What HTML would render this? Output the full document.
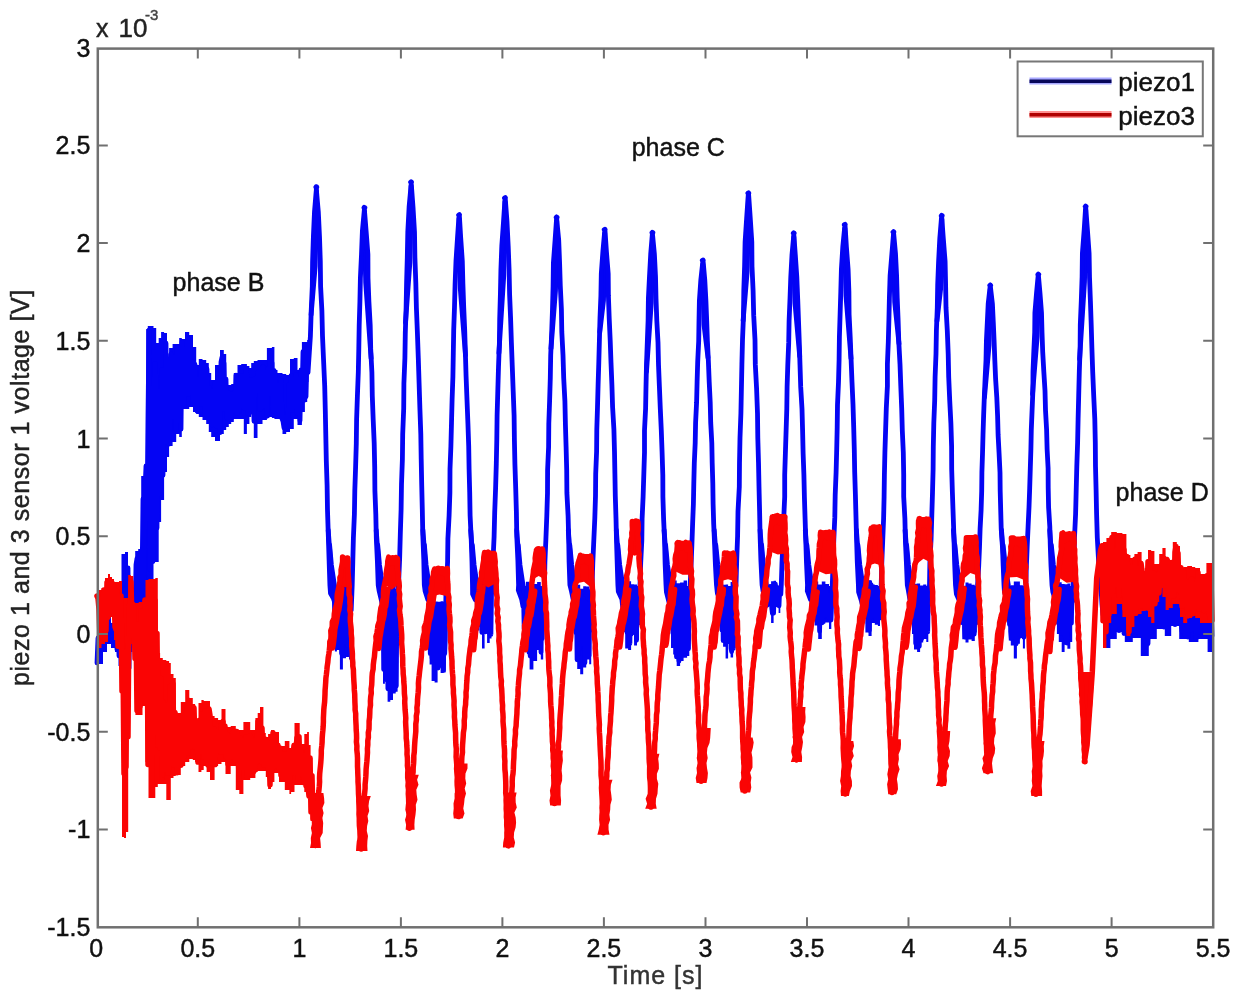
<!DOCTYPE html><html><head><meta charset="utf-8"><style>html,body{margin:0;padding:0;background:#fff;}svg{display:block}text{font-family:"Liberation Sans",Arial,sans-serif;stroke-width:0.45px;}</style></head><body>
<svg width="1236" height="1000" viewBox="0 0 1236 1000">
<rect width="1236" height="1000" fill="#fff"/>
<path d="M97.0 628.0 99.0 628.0 99.0 633.0 103.0 633.0 103.0 626.0 107.0 626.0 107.0 614.0 111.0 614.0 111.0 623.0 115.0 623.0 115.0 630.0 118.5 630.0 118.5 600.0 121.5 600.0 121.5 554.0 125.0 554.0 125.0 552.0 128.0 552.0 128.0 573.0 130.0 573.0 130.0 578.0 132.5 578.0 132.5 598.0 135.2 598.0 135.2 551.0 138.2 551.0 138.2 549.0 141.2 549.0 141.2 476.0 144.0 476.0 144.0 468.0 146.2 468.0 146.2 329.0 147.8 329.0 147.8 326.0 150.2 326.0 150.2 326.0 153.5 326.0 153.5 328.0 156.2 328.0 156.2 343.0 158.7 343.0 158.7 338.0 161.1 338.0 161.1 332.0 164.1 332.0 164.1 333.0 167.0 333.0 167.0 378.0 169.1 378.0 169.1 348.0 172.6 348.0 172.6 344.0 176.2 344.0 176.2 344.0 179.2 344.0 179.2 338.0 181.8 338.0 181.8 339.0 185.0 339.0 185.0 332.0 189.2 332.0 189.2 335.0 193.0 335.0 193.0 347.0 196.2 347.0 196.2 365.0 198.8 365.0 198.8 359.0 202.5 359.0 202.5 360.0 206.2 360.0 206.2 363.0 208.8 363.0 208.8 373.0 211.2 373.0 211.2 380.0 215.0 380.0 215.0 365.0 220.0 365.0 220.0 350.0 223.8 350.0 223.8 354.0 226.2 354.0 226.2 385.0 228.8 385.0 228.8 385.0 231.2 385.0 231.2 384.0 233.8 384.0 233.8 373.0 237.5 373.0 237.5 365.0 241.2 365.0 241.2 364.0 243.8 364.0 243.8 364.0 246.9 364.0 246.9 366.0 249.4 366.0 249.4 368.0 251.2 368.0 251.2 363.0 253.8 363.0 253.8 361.0 257.5 361.0 257.5 360.0 262.5 360.0 262.5 360.0 266.9 360.0 266.9 348.0 269.4 348.0 269.4 348.0 271.9 348.0 271.9 347.0 274.4 347.0 274.4 370.0 277.5 370.0 277.5 373.0 282.5 373.0 282.5 374.0 286.2 374.0 286.2 375.0 290.0 375.0 290.0 359.0 293.8 359.0 293.8 358.0 297.5 358.0 297.5 370.0 301.9 370.0 301.9 342.0 304.9 342.0 304.9 342.0 307.2 342.0 307.2 340.0 308.5 340.0 308.5 382.0 307.2 382.0 307.2 402.0 304.9 402.0 304.9 412.0 301.9 412.0 301.9 425.0 297.5 425.0 297.5 419.0 293.8 419.0 293.8 429.0 290.0 429.0 290.0 432.0 286.2 432.0 286.2 434.0 282.5 434.0 282.5 419.0 277.5 419.0 277.5 419.0 274.4 419.0 274.4 418.0 271.9 418.0 271.9 417.0 269.4 417.0 269.4 418.0 266.9 418.0 266.9 420.0 262.5 420.0 262.5 424.0 257.5 424.0 257.5 438.0 253.8 438.0 253.8 409.0 251.2 409.0 251.2 417.0 249.4 417.0 249.4 424.0 246.9 424.0 246.9 434.0 243.8 434.0 243.8 419.0 241.2 419.0 241.2 419.0 237.5 419.0 237.5 419.0 233.8 419.0 233.8 422.0 231.2 422.0 231.2 424.0 228.8 424.0 228.8 427.0 226.2 427.0 226.2 430.0 223.8 430.0 223.8 434.0 220.0 434.0 220.0 441.0 215.0 441.0 215.0 437.0 211.2 437.0 211.2 432.0 208.8 432.0 208.8 424.0 206.2 424.0 206.2 420.0 202.5 420.0 202.5 417.0 198.8 417.0 198.8 414.0 196.2 414.0 196.2 412.0 193.0 412.0 193.0 407.0 189.2 407.0 189.2 409.0 185.0 409.0 185.0 409.0 181.8 409.0 181.8 437.0 179.2 437.0 179.2 434.0 176.2 434.0 176.2 442.0 172.6 442.0 172.6 446.0 169.1 446.0 169.1 457.0 167.0 457.0 167.0 472.0 164.1 472.0 164.1 500.0 161.1 500.0 161.1 522.0 158.7 522.0 158.7 562.0 156.2 562.0 156.2 562.0 153.5 562.0 153.5 592.0 150.2 592.0 150.2 600.0 147.8 600.0 147.8 602.0 146.2 602.0 146.2 612.0 144.0 612.0 144.0 622.0 141.2 622.0 141.2 622.0 138.2 622.0 138.2 622.0 135.2 622.0 135.2 622.0 132.5 622.0 132.5 652.0 130.0 652.0 130.0 704.0 128.0 704.0 128.0 682.0 125.0 682.0 125.0 662.0 121.5 662.0 121.5 666.0 118.5 666.0 118.5 652.0 115.0 652.0 115.0 648.0 111.0 648.0 111.0 644.0 107.0 644.0 107.0 652.0 103.0 652.0 103.0 664.0 99.0 664.0 99.0 666.0 97.0 666.0Z" fill="#0404f4"/>
<path d="M334.4 596.0 334.9 596.0 334.9 589.0 336.9 589.0 336.9 587.6 339.9 587.6 339.9 584.7 342.9 584.7 342.9 583.1 346.0 583.1 346.0 586.3 349.0 586.3 349.0 589.0 351.0 589.0 351.0 588.0 351.5 588.0 351.5 606.0 351.0 606.0 351.0 659.5 349.0 659.5 349.0 657.0 346.0 657.0 346.0 658.2 342.9 658.2 342.9 669.5 339.9 669.5 339.9 650.1 336.9 650.1 336.9 651.5 334.9 651.5 334.9 612.0 334.4 612.0Z" fill="#0404f4"/>
<path d="M382.5 596.0 383.0 596.0 383.0 589.0 384.9 589.0 384.9 587.5 387.6 587.5 387.6 587.5 390.3 587.5 390.3 586.3 393.0 586.3 393.0 584.1 395.7 584.1 395.7 589.0 397.6 589.0 397.6 588.0 398.1 588.0 398.1 606.0 397.6 606.0 397.6 691.8 395.7 691.8 395.7 693.5 393.0 693.5 393.0 699.9 390.3 699.9 390.3 701.8 387.6 701.8 387.6 680.8 384.9 680.8 384.9 683.8 383.0 683.8 383.0 612.0 382.5 612.0Z" fill="#0404f4"/>
<path d="M429.1 596.0 429.6 596.0 429.6 602.0 431.6 602.0 431.6 597.4 434.6 597.4 434.6 601.5 437.6 601.5 437.6 601.8 440.6 601.8 440.6 601.2 443.6 601.2 443.6 602.0 445.6 602.0 445.6 588.0 446.1 588.0 446.1 606.0 445.6 606.0 445.6 672.4 443.6 672.4 443.6 673.1 440.6 673.1 440.6 667.8 437.6 667.8 437.6 682.4 434.6 682.4 434.6 680.9 431.6 680.9 431.6 664.4 429.6 664.4 429.6 612.0 429.1 612.0Z" fill="#0404f4"/>
<path d="M477.1 596.0 477.6 596.0 477.6 586.0 479.4 586.0 479.4 584.6 482.0 584.6 482.0 580.9 484.6 580.9 484.6 582.7 487.1 582.7 487.1 580.2 489.7 580.2 489.7 586.0 491.5 586.0 491.5 588.0 492.0 588.0 492.0 606.0 491.5 606.0 491.5 638.4 489.7 638.4 489.7 643.1 487.1 643.1 487.1 632.0 484.6 632.0 484.6 648.4 482.0 648.4 482.0 626.7 479.4 626.7 479.4 630.4 477.6 630.4 477.6 612.0 477.1 612.0Z" fill="#0404f4"/>
<path d="M523.0 596.0 523.5 596.0 523.5 586.0 525.9 586.0 525.9 581.8 529.6 581.8 529.6 585.3 533.4 585.3 533.4 583.9 537.1 583.9 537.1 582.0 540.8 582.0 540.8 586.0 543.2 586.0 543.2 588.0 543.7 588.0 543.7 606.0 543.2 606.0 543.2 659.5 540.8 659.5 540.8 649.8 537.1 649.8 537.1 661.0 533.4 661.0 533.4 669.5 529.6 669.5 529.6 651.6 525.9 651.6 525.9 651.5 523.5 651.5 523.5 612.0 523.0 612.0Z" fill="#0404f4"/>
<path d="M574.7 596.0 575.2 596.0 575.2 589.2 577.2 589.2 577.2 584.8 580.2 584.8 580.2 588.7 583.2 588.7 583.2 586.2 586.2 586.2 586.2 586.4 589.2 586.4 589.2 589.2 591.2 589.2 591.2 588.0 591.7 588.0 591.7 606.0 591.2 606.0 591.2 664.3 589.2 664.3 589.2 659.6 586.2 659.6 586.2 667.5 583.2 667.5 583.2 674.3 580.2 674.3 580.2 668.9 577.2 668.9 577.2 656.3 575.2 656.3 575.2 612.0 574.7 612.0Z" fill="#0404f4"/>
<path d="M622.7 596.0 623.2 596.0 623.2 586.0 625.2 586.0 625.2 580.0 628.1 580.0 628.1 581.2 631.1 581.2 631.1 584.3 634.1 584.3 634.1 584.6 637.0 584.6 637.0 586.0 639.0 586.0 639.0 588.0 639.5 588.0 639.5 606.0 639.0 606.0 639.0 640.0 637.0 640.0 637.0 645.6 634.1 645.6 634.1 630.9 631.1 630.9 631.1 650.0 628.1 650.0 628.1 648.5 625.2 648.5 625.2 632.0 623.2 632.0 623.2 612.0 622.7 612.0Z" fill="#0404f4"/>
<path d="M670.5 596.0 671.0 596.0 671.0 586.0 673.2 586.0 673.2 580.4 676.7 580.4 676.7 583.3 680.1 583.3 680.1 582.4 683.6 582.4 683.6 580.6 687.1 580.6 687.1 586.0 689.3 586.0 689.3 588.0 689.8 588.0 689.8 606.0 689.3 606.0 689.3 656.0 687.1 656.0 687.1 657.8 683.6 657.8 683.6 661.1 680.1 661.1 680.1 666.0 676.7 666.0 676.7 654.4 673.2 654.4 673.2 648.0 671.0 648.0 671.0 612.0 670.5 612.0Z" fill="#0404f4"/>
<path d="M720.8 596.0 721.3 596.0 721.3 586.4 723.1 586.4 723.1 584.8 725.6 584.8 725.6 584.4 728.1 584.4 728.1 585.9 730.6 585.9 730.6 582.0 733.1 582.0 733.1 586.4 734.9 586.4 734.9 588.0 735.4 588.0 735.4 606.0 734.9 606.0 734.9 648.6 733.1 648.6 733.1 657.4 730.6 657.4 730.6 641.5 728.1 641.5 728.1 658.6 725.6 658.6 725.6 646.8 723.1 646.8 723.1 640.6 721.3 640.6 721.3 612.0 720.8 612.0Z" fill="#0404f4"/>
<path d="M766.4 596.0 766.9 596.0 766.9 586.0 768.6 586.0 768.6 584.3 771.1 584.3 771.1 581.2 773.6 581.2 773.6 580.8 776.1 580.8 776.1 585.3 778.6 585.3 778.6 586.0 780.3 586.0 780.3 588.0 780.8 588.0 780.8 606.0 780.3 606.0 780.3 613.0 778.6 613.0 778.6 607.0 776.1 607.0 776.1 608.1 773.6 608.1 773.6 623.0 771.1 623.0 771.1 602.2 768.6 602.2 768.6 605.0 766.9 605.0 766.9 612.0 766.4 612.0Z" fill="#0404f4"/>
<path d="M811.8 596.0 812.3 596.0 812.3 586.0 814.6 586.0 814.6 581.5 818.2 581.5 818.2 584.6 821.8 584.6 821.8 581.6 825.4 581.6 825.4 583.9 829.0 583.9 829.0 586.0 831.3 586.0 831.3 588.0 831.8 588.0 831.8 606.0 831.3 606.0 831.3 629.0 829.0 629.0 829.0 622.5 825.4 622.5 825.4 623.4 821.8 623.4 821.8 639.0 818.2 639.0 818.2 625.6 814.6 625.6 814.6 621.0 812.3 621.0 812.3 612.0 811.8 612.0Z" fill="#0404f4"/>
<path d="M862.8 596.0 863.3 596.0 863.3 586.0 865.4 586.0 865.4 582.4 868.5 582.4 868.5 580.2 871.6 580.2 871.6 584.5 874.8 584.5 874.8 584.9 877.9 584.9 877.9 586.0 880.0 586.0 880.0 588.0 880.5 588.0 880.5 606.0 880.0 606.0 880.0 626.0 877.9 626.0 877.9 624.8 874.8 624.8 874.8 623.1 871.6 623.1 871.6 636.0 868.5 636.0 868.5 632.5 865.4 632.5 865.4 618.0 863.3 618.0 863.3 612.0 862.8 612.0Z" fill="#0404f4"/>
<path d="M911.5 596.0 912.0 596.0 912.0 586.0 914.0 586.0 914.0 583.8 917.1 583.8 917.1 583.4 920.1 583.4 920.1 585.6 923.2 585.6 923.2 584.6 926.3 584.6 926.3 586.0 928.3 586.0 928.3 588.0 928.8 588.0 928.8 606.0 928.3 606.0 928.3 642.0 926.3 642.0 926.3 639.0 923.2 639.0 923.2 642.4 920.1 642.4 920.1 652.0 917.1 652.0 917.1 649.6 914.0 649.6 914.0 634.0 912.0 634.0 912.0 612.0 911.5 612.0Z" fill="#0404f4"/>
<path d="M959.8 596.0 960.3 596.0 960.3 586.0 962.3 586.0 962.3 585.8 965.5 585.8 965.5 582.4 968.5 582.4 968.5 583.4 971.6 583.4 971.6 584.7 974.8 584.7 974.8 586.0 976.8 586.0 976.8 588.0 977.3 588.0 977.3 606.0 976.8 606.0 976.8 632.4 974.8 632.4 974.8 641.0 971.6 641.0 971.6 639.5 968.5 639.5 968.5 642.4 965.5 642.4 965.5 639.2 962.3 639.2 962.3 624.4 960.3 624.4 960.3 612.0 959.8 612.0Z" fill="#0404f4"/>
<path d="M1008.3 596.0 1008.8 596.0 1008.8 586.0 1010.8 586.0 1010.8 585.2 1013.8 585.2 1013.8 581.6 1016.9 581.6 1016.9 581.5 1019.9 581.5 1019.9 585.2 1022.9 585.2 1022.9 586.0 1024.9 586.0 1024.9 588.0 1025.4 588.0 1025.4 606.0 1024.9 606.0 1024.9 648.6 1022.9 648.6 1022.9 638.0 1019.9 638.0 1019.9 643.8 1016.9 643.8 1016.9 658.6 1013.8 658.6 1013.8 645.5 1010.8 645.5 1010.8 640.6 1008.8 640.6 1008.8 612.0 1008.3 612.0Z" fill="#0404f4"/>
<path d="M1056.4 596.0 1056.9 596.0 1056.9 586.0 1058.8 586.0 1058.8 582.2 1061.7 582.2 1061.7 584.1 1064.6 584.1 1064.6 584.3 1067.4 584.3 1067.4 583.4 1070.3 583.4 1070.3 586.0 1072.2 586.0 1072.2 588.0 1072.7 588.0 1072.7 606.0 1072.2 606.0 1072.2 642.0 1070.3 642.0 1070.3 648.8 1067.4 648.8 1067.4 644.8 1064.6 644.8 1064.6 652.0 1061.7 652.0 1061.7 642.0 1058.8 642.0 1058.8 634.0 1056.9 634.0 1056.9 612.0 1056.4 612.0Z" fill="#0404f4"/>
<path d="M1101.0 583.0 1104.1 583.0 1104.1 586.0 1110.4 586.0 1110.4 588.0 1116.8 588.0 1116.8 588.0 1124.8 588.0 1124.8 590.0 1132.8 590.0 1132.8 588.0 1140.8 588.0 1140.8 593.0 1148.8 593.0 1148.8 590.0 1156.8 590.0 1156.8 577.0 1164.8 577.0 1164.8 588.0 1171.2 588.0 1171.2 588.0 1179.2 588.0 1179.2 590.0 1188.8 590.0 1188.8 590.0 1198.4 590.0 1198.4 590.0 1207.6 590.0 1207.6 593.0 1212.0 593.0 1212.0 652.0 1207.6 652.0 1207.6 639.0 1198.4 639.0 1198.4 642.0 1188.8 642.0 1188.8 639.0 1179.2 639.0 1179.2 626.0 1171.2 626.0 1171.2 636.0 1164.8 636.0 1164.8 629.0 1156.8 629.0 1156.8 639.0 1148.8 639.0 1148.8 656.0 1140.8 656.0 1140.8 638.0 1132.8 638.0 1132.8 642.0 1124.8 642.0 1124.8 632.0 1116.8 632.0 1116.8 639.0 1110.4 639.0 1110.4 648.0 1104.1 648.0 1104.1 602.0 1101.0 602.0Z" fill="#0404f4"/>
<path d="M316.4 190.7 315.9 234.5 315.2 266.4 311.1 314.9" fill="none" stroke="#0404f4" stroke-width="4.8" stroke-linejoin="round" stroke-linecap="round"/>
<path d="M328.2 530.0 329.7 550.0 330.9 572.0 333.4 590.0 335.4 600.0" fill="none" stroke="#0404f4" stroke-width="4.8" stroke-linejoin="round" stroke-linecap="round"/>
<path d="M329.6 545.0 331.4 565.0 334.4 585.0 336.4 598.0" fill="none" stroke="#0404f4" stroke-width="4.8" stroke-linejoin="round" stroke-linecap="round"/>
<path d="M364.5 211.3 365.0 252.6 365.7 282.8 371.1 358.4" fill="none" stroke="#0404f4" stroke-width="4.8" stroke-linejoin="round" stroke-linecap="round"/>
<path d="M376.2 530.0 377.7 550.0 379.0 572.0 381.5 590.0 383.5 600.0" fill="none" stroke="#0404f4" stroke-width="4.8" stroke-linejoin="round" stroke-linecap="round"/>
<path d="M377.7 545.0 379.5 565.0 382.5 585.0 384.5 598.0" fill="none" stroke="#0404f4" stroke-width="4.8" stroke-linejoin="round" stroke-linecap="round"/>
<path d="M411.1 185.8 410.6 230.2 409.9 262.4 405.5 322.8" fill="none" stroke="#0404f4" stroke-width="4.8" stroke-linejoin="round" stroke-linecap="round"/>
<path d="M422.9 530.0 424.4 550.0 425.6 572.0 428.1 590.0 430.1 600.0" fill="none" stroke="#0404f4" stroke-width="4.8" stroke-linejoin="round" stroke-linecap="round"/>
<path d="M424.4 545.0 426.1 565.0 429.1 585.0 431.1 598.0" fill="none" stroke="#0404f4" stroke-width="4.8" stroke-linejoin="round" stroke-linecap="round"/>
<path d="M459.1 218.6 459.6 259.0 460.3 288.7 465.5 355.4" fill="none" stroke="#0404f4" stroke-width="4.8" stroke-linejoin="round" stroke-linecap="round"/>
<path d="M470.7 530.0 472.2 550.0 473.6 572.0 476.1 590.0 478.1 600.0" fill="none" stroke="#0404f4" stroke-width="4.8" stroke-linejoin="round" stroke-linecap="round"/>
<path d="M472.3 545.0 474.1 565.0 477.1 585.0 479.1 598.0" fill="none" stroke="#0404f4" stroke-width="4.8" stroke-linejoin="round" stroke-linecap="round"/>
<path d="M505.0 201.6 504.5 244.1 503.8 275.1 498.9 353.2" fill="none" stroke="#0404f4" stroke-width="4.8" stroke-linejoin="round" stroke-linecap="round"/>
<path d="M516.7 530.0 518.2 550.0 519.5 572.0 522.0 590.0 524.0 600.0" fill="none" stroke="#0404f4" stroke-width="4.8" stroke-linejoin="round" stroke-linecap="round"/>
<path d="M518.2 545.0 520.0 565.0 523.0 585.0 525.0 598.0" fill="none" stroke="#0404f4" stroke-width="4.8" stroke-linejoin="round" stroke-linecap="round"/>
<path d="M556.7 221.0 556.2 261.2 555.5 290.6 551.0 348.5" fill="none" stroke="#0404f4" stroke-width="4.8" stroke-linejoin="round" stroke-linecap="round"/>
<path d="M568.3 530.0 569.8 550.0 571.2 572.0 573.7 590.0 575.7 600.0" fill="none" stroke="#0404f4" stroke-width="4.8" stroke-linejoin="round" stroke-linecap="round"/>
<path d="M569.8 545.0 571.7 565.0 574.7 585.0 576.7 598.0" fill="none" stroke="#0404f4" stroke-width="4.8" stroke-linejoin="round" stroke-linecap="round"/>
<path d="M604.7 233.2 604.2 271.9 603.5 300.4 599.8 332.1" fill="none" stroke="#0404f4" stroke-width="4.8" stroke-linejoin="round" stroke-linecap="round"/>
<path d="M616.3 530.0 617.8 550.0 619.2 572.0 621.7 590.0 623.7 600.0" fill="none" stroke="#0404f4" stroke-width="4.8" stroke-linejoin="round" stroke-linecap="round"/>
<path d="M617.8 545.0 619.7 565.0 622.7 585.0 624.7 598.0" fill="none" stroke="#0404f4" stroke-width="4.8" stroke-linejoin="round" stroke-linecap="round"/>
<path d="M652.5 236.3 652.0 274.6 651.3 302.8 646.5 371.7" fill="none" stroke="#0404f4" stroke-width="4.8" stroke-linejoin="round" stroke-linecap="round"/>
<path d="M664.1 530.0 665.6 550.0 667.0 572.0 669.5 590.0 671.5 600.0" fill="none" stroke="#0404f4" stroke-width="4.8" stroke-linejoin="round" stroke-linecap="round"/>
<path d="M665.6 545.0 667.5 565.0 670.5 585.0 672.5 598.0" fill="none" stroke="#0404f4" stroke-width="4.8" stroke-linejoin="round" stroke-linecap="round"/>
<path d="M702.8 264.0 703.3 299.0 704.0 325.0 708.0 357.9" fill="none" stroke="#0404f4" stroke-width="4.8" stroke-linejoin="round" stroke-linecap="round"/>
<path d="M714.2 530.0 715.7 550.0 717.3 572.0 719.8 590.0 721.8 600.0" fill="none" stroke="#0404f4" stroke-width="4.8" stroke-linejoin="round" stroke-linecap="round"/>
<path d="M715.8 545.0 717.8 565.0 720.8 585.0 722.8 598.0" fill="none" stroke="#0404f4" stroke-width="4.8" stroke-linejoin="round" stroke-linecap="round"/>
<path d="M748.4 196.8 747.9 239.9 747.2 271.2 743.1 320.7" fill="none" stroke="#0404f4" stroke-width="4.8" stroke-linejoin="round" stroke-linecap="round"/>
<path d="M760.1 530.0 761.6 550.0 762.9 572.0 765.4 590.0 767.4 600.0" fill="none" stroke="#0404f4" stroke-width="4.8" stroke-linejoin="round" stroke-linecap="round"/>
<path d="M761.6 545.0 763.4 565.0 766.4 585.0 768.4 598.0" fill="none" stroke="#0404f4" stroke-width="4.8" stroke-linejoin="round" stroke-linecap="round"/>
<path d="M793.8 236.8 794.3 275.1 795.0 303.2 799.7 356.3" fill="none" stroke="#0404f4" stroke-width="4.8" stroke-linejoin="round" stroke-linecap="round"/>
<path d="M805.3 530.0 806.8 550.0 808.3 572.0 810.8 590.0 812.8 600.0" fill="none" stroke="#0404f4" stroke-width="4.8" stroke-linejoin="round" stroke-linecap="round"/>
<path d="M806.9 545.0 808.8 565.0 811.8 585.0 813.8 598.0" fill="none" stroke="#0404f4" stroke-width="4.8" stroke-linejoin="round" stroke-linecap="round"/>
<path d="M844.8 228.3 845.3 267.6 846.0 296.4 851.0 358.6" fill="none" stroke="#0404f4" stroke-width="4.8" stroke-linejoin="round" stroke-linecap="round"/>
<path d="M856.4 530.0 857.9 550.0 859.3 572.0 861.8 590.0 863.8 600.0" fill="none" stroke="#0404f4" stroke-width="4.8" stroke-linejoin="round" stroke-linecap="round"/>
<path d="M857.9 545.0 859.8 565.0 862.8 585.0 864.8 598.0" fill="none" stroke="#0404f4" stroke-width="4.8" stroke-linejoin="round" stroke-linecap="round"/>
<path d="M893.5 235.6 894.0 274.0 894.7 302.3 899.0 343.7" fill="none" stroke="#0404f4" stroke-width="4.8" stroke-linejoin="round" stroke-linecap="round"/>
<path d="M905.1 530.0 906.6 550.0 908.0 572.0 910.5 590.0 912.5 600.0" fill="none" stroke="#0404f4" stroke-width="4.8" stroke-linejoin="round" stroke-linecap="round"/>
<path d="M906.6 545.0 908.5 565.0 911.5 585.0 913.5 598.0" fill="none" stroke="#0404f4" stroke-width="4.8" stroke-linejoin="round" stroke-linecap="round"/>
<path d="M941.8 219.3 941.3 259.7 940.6 289.2 937.0 320.9" fill="none" stroke="#0404f4" stroke-width="4.8" stroke-linejoin="round" stroke-linecap="round"/>
<path d="M953.4 530.0 954.9 550.0 956.3 572.0 958.8 590.0 960.8 600.0" fill="none" stroke="#0404f4" stroke-width="4.8" stroke-linejoin="round" stroke-linecap="round"/>
<path d="M954.9 545.0 956.8 565.0 959.8 585.0 961.8 598.0" fill="none" stroke="#0404f4" stroke-width="4.8" stroke-linejoin="round" stroke-linecap="round"/>
<path d="M990.3 289.0 989.8 321.0 989.1 345.0 984.5 397.4" fill="none" stroke="#0404f4" stroke-width="4.8" stroke-linejoin="round" stroke-linecap="round"/>
<path d="M1001.5 530.0 1003.0 550.0 1004.8 572.0 1007.3 590.0 1009.3 600.0" fill="none" stroke="#0404f4" stroke-width="4.8" stroke-linejoin="round" stroke-linecap="round"/>
<path d="M1003.1 545.0 1005.3 565.0 1008.3 585.0 1010.3 598.0" fill="none" stroke="#0404f4" stroke-width="4.8" stroke-linejoin="round" stroke-linecap="round"/>
<path d="M1038.4 278.1 1037.9 311.4 1037.2 336.3 1032.5 394.2" fill="none" stroke="#0404f4" stroke-width="4.8" stroke-linejoin="round" stroke-linecap="round"/>
<path d="M1049.7 530.0 1051.2 550.0 1052.9 572.0 1055.4 590.0 1057.4 600.0" fill="none" stroke="#0404f4" stroke-width="4.8" stroke-linejoin="round" stroke-linecap="round"/>
<path d="M1051.3 545.0 1053.4 565.0 1056.4 585.0 1058.4 598.0" fill="none" stroke="#0404f4" stroke-width="4.8" stroke-linejoin="round" stroke-linecap="round"/>
<path d="M1085.7 210.1 1085.2 251.6 1084.5 281.9 1079.6 359.1" fill="none" stroke="#0404f4" stroke-width="4.8" stroke-linejoin="round" stroke-linecap="round"/>
<path d="M97.0 662.9 98.0 638.0 99.0 658.9 100.0 637.0 101.0 641.7 102.0 642.0 103.0 648.7 104.0 630.4 105.0 642.5 106.0 631.9 107.0 641.7 108.0 621.6 109.0 623.7 110.0 636.2 111.0 626.9 112.0 625.9 113.0 625.2 114.0 630.2 115.0 641.6 116.0 632.2 117.0 649.6 118.0 625.0 119.0 655.8 120.0 611.8 121.0 639.5 122.0 584.7 123.0 658.7 124.0 589.5 125.0 664.0 126.0 596.3 127.0 669.8 128.0 567.9 129.0 668.3 130.0 593.3 131.0 639.4 132.0 589.7 133.0 596.7 134.0 619.4 135.0 618.2 136.0 564.7 137.0 558.5 138.0 615.6 139.0 555.9 140.0 601.3 141.0 606.6 142.0 584.4 143.0 498.9 144.0 583.7 145.0 489.3 146.0 465.9 147.0 519.0 148.0 415.0 149.0 330.2 150.0 569.3 151.0 506.7 152.0 410.6 153.0 561.6 154.0 387.1 155.0 363.7 156.0 381.2 157.0 528.1 158.0 390.3 159.0 391.3 160.0 493.5 161.0 454.5 162.0 369.5 163.0 475.3 164.0 383.0 165.0 442.4 166.0 343.2 167.0 441.9 168.0 397.6 169.0 444.1 170.0 425.0 171.0 354.0 172.0 376.5 173.0 356.9 174.0 416.9 175.0 366.7 176.0 431.5 177.0 348.5 178.0 346.6 179.0 411.5 180.0 346.3 181.0 429.2 182.0 342.1 183.0 398.2 184.0 405.8 185.0 349.2 186.0 393.8 187.0 341.8 188.0 394.4 189.0 345.2 190.0 338.4 191.0 384.2 192.0 361.2 193.0 404.6 194.0 396.8 195.0 364.5 196.0 405.2 197.0 411.1 198.0 378.8 199.0 378.6 200.0 404.3 201.0 370.6 202.0 362.8 203.0 403.8 204.0 364.9 205.0 414.7 206.0 409.5 207.0 369.0 208.0 418.1 209.0 387.6 210.0 418.0 211.0 416.9 212.0 425.0 213.0 390.9 214.0 416.2 215.0 383.4 216.0 425.9 217.0 381.8 218.0 389.1 219.0 414.1 220.0 432.7 221.0 361.9 222.0 357.3 223.0 409.0 224.0 363.0 225.0 405.4 226.0 379.0 227.0 418.1 228.0 392.6 229.0 413.0 230.0 393.6 231.0 419.3 232.0 396.0 233.0 410.8 234.0 393.0 235.0 405.7 236.0 375.1 237.0 413.5 238.0 381.5 239.0 411.5 240.0 401.4 241.0 375.6 242.0 400.4 243.0 376.5 244.0 408.0 245.0 385.5 246.0 368.8 247.0 376.8 248.0 413.4 249.0 379.5 250.0 412.4 251.0 379.4 252.0 396.1 253.0 379.7 254.0 421.3 255.0 378.4 256.0 382.7 257.0 380.4 258.0 371.8 259.0 377.5 260.0 409.4 261.0 369.2 262.0 407.1 263.0 366.8 264.0 405.5 265.0 372.6 266.0 372.1 267.0 416.3 268.0 369.0 269.0 393.9 270.0 352.4 271.0 362.5 272.0 362.7 273.0 411.2 274.0 370.3 275.0 374.7 276.0 409.0 277.0 387.8 278.0 410.8 279.0 384.3 280.0 412.7 281.0 379.2 282.0 418.7 283.0 421.4 284.0 427.8 285.0 420.7 286.0 416.6 287.0 425.0 288.0 426.0 289.0 384.7 290.0 408.7 291.0 375.6 292.0 410.5 293.0 378.4 294.0 380.7 295.0 399.2 296.0 374.7 297.0 413.2 298.0 379.1 299.0 408.0 300.0 420.7 301.0 369.9 302.0 397.5 303.0 351.7 304.0 400.4 305.0 348.6 306.0 396.7 307.0 357.1 308.0 372.5 310.4 336.1 311.2 311.2 312.3 286.3 312.6 261.4 313.4 236.5 314.5 211.6 316.6 186.7 315.9 187.2 316.9 187.2 316.1 186.7 318.3 211.6 319.5 236.5 320.3 261.4 320.6 286.3 321.9 311.2 322.5 336.1 323.6 361.0 324.7 385.9 325.3 410.7 325.8 435.6 326.3 460.5 327.1 485.4 327.5 510.3 328.3 535.2 329.1 560.1 329.9 585.0 330.5 593.3 333.5 598.7 334.4 601.5 335.0 630.6 335.6 606.1 336.2 641.5 336.8 603.7 337.4 643.6 338.0 598.0 338.6 603.6 339.2 646.7 339.8 642.7 340.4 609.6 341.0 611.3 341.6 653.4 342.2 648.7 342.8 605.9 343.4 638.4 344.0 592.9 344.6 638.9 345.2 605.0 345.8 642.4 346.4 632.3 347.0 593.1 347.6 645.5 348.2 595.6 348.8 639.9 349.4 644.3 350.0 654.9 350.6 611.5 351.2 610.1 352.2 585.0 352.8 561.4 353.4 537.8 354.4 514.2 354.8 490.6 355.6 467.0 356.3 443.4 356.6 419.8 357.4 396.1 358.3 372.5 358.8 348.9 359.2 325.3 359.9 301.7 360.4 278.1 361.5 254.5 362.4 230.9 364.6 207.3 364.0 207.8 365.0 207.8 364.2 207.3 366.1 230.9 367.9 254.5 368.0 278.1 368.9 301.7 370.2 325.3 370.7 348.9 371.9 372.5 372.3 396.1 373.2 419.8 374.2 443.4 374.7 467.0 374.9 490.6 375.8 514.2 376.3 537.8 377.4 561.4 378.2 585.0 379.1 590.6 381.7 601.7 382.5 606.9 383.1 603.2 383.7 669.4 384.3 596.4 384.9 663.2 385.5 591.1 386.1 671.6 386.7 679.9 387.3 594.7 387.9 688.8 388.5 612.6 389.1 670.5 389.7 599.4 390.3 677.2 390.9 601.6 391.5 686.8 392.1 599.5 392.7 676.9 393.3 622.0 393.9 690.1 394.5 610.7 395.1 672.0 395.7 592.0 396.3 686.0 396.9 599.1 397.5 634.1 398.1 593.7 398.5 585.0 399.6 559.8 400.3 534.6 401.1 509.4 401.5 484.2 402.4 459.0 402.7 433.8 403.7 408.6 403.9 383.4 404.9 358.2 405.3 333.0 406.1 307.8 406.6 282.6 407.3 257.4 407.8 232.2 409.1 207.0 411.4 181.8 410.6 182.3 411.6 182.3 411.1 181.8 413.0 207.0 414.5 232.2 414.9 257.4 415.8 282.6 416.4 307.8 417.4 333.0 418.3 358.2 419.1 383.4 419.9 408.6 420.8 433.8 421.2 459.0 421.7 484.2 422.3 509.4 422.8 534.6 423.8 559.8 424.3 585.0 425.1 591.0 427.8 599.6 429.1 601.2 429.7 603.2 430.3 653.7 430.9 608.4 431.5 647.6 432.1 658.0 432.7 601.5 433.3 608.4 433.9 627.5 434.5 660.2 435.1 657.9 435.7 615.8 436.3 630.0 436.9 655.8 437.5 606.4 438.1 668.1 438.7 607.0 439.3 613.6 439.9 651.7 440.5 607.8 441.1 664.3 441.7 624.1 442.3 654.4 442.9 610.1 443.5 670.2 444.1 616.3 444.7 653.7 445.3 639.2 445.9 595.1 446.6 585.0 447.6 561.9 447.9 538.7 449.1 515.5 449.9 492.4 450.0 469.2 450.9 446.1 451.5 422.9 452.1 399.8 452.9 376.6 453.3 353.5 453.7 330.4 454.5 307.2 455.1 284.0 456.0 260.9 457.5 237.8 459.1 214.6 458.6 215.1 459.6 215.1 459.3 214.6 460.7 237.8 462.3 260.9 462.9 284.0 463.7 307.2 464.7 330.4 465.4 353.5 466.1 376.6 467.0 399.8 467.9 422.9 468.7 446.1 469.1 469.2 469.7 492.4 470.1 515.5 471.2 538.7 472.0 561.9 472.5 585.0 472.6 593.9 475.4 600.0 477.1 599.8 477.7 611.6 478.3 624.6 478.9 591.2 479.5 618.9 480.1 591.6 480.7 611.9 481.3 586.8 481.9 632.4 482.5 629.3 483.1 631.5 483.7 590.7 484.3 623.3 484.9 592.7 485.5 631.9 486.1 618.1 486.7 596.1 487.3 618.0 487.9 590.6 488.5 625.9 489.1 602.2 489.7 633.4 490.3 592.4 490.9 634.4 491.5 594.8 492.4 585.0 493.0 560.8 494.1 536.6 494.7 512.4 495.6 488.1 496.3 463.9 496.8 439.7 497.1 415.5 497.8 391.3 498.5 367.1 499.4 342.9 499.7 318.7 500.4 294.4 500.9 270.2 501.8 246.0 503.5 221.8 505.1 197.6 504.5 198.1 505.5 198.1 505.2 197.6 507.0 221.8 508.2 246.0 509.1 270.2 509.6 294.4 510.6 318.7 511.4 342.9 512.3 367.1 513.2 391.3 514.1 415.5 514.4 439.7 514.9 463.9 515.7 488.1 516.4 512.4 516.8 536.6 517.9 560.8 518.6 585.0 518.3 590.1 521.7 599.5 523.0 606.6 523.6 600.0 524.2 629.3 524.8 608.3 525.4 601.6 526.0 637.6 526.6 591.3 527.2 638.5 527.8 626.8 528.4 647.0 529.0 652.6 529.6 592.4 530.2 656.1 530.8 591.1 531.4 648.4 532.0 646.6 532.6 605.2 533.2 646.3 533.8 655.1 534.4 656.0 535.0 607.9 535.6 633.6 536.2 597.4 536.8 647.8 537.4 599.9 538.0 631.7 538.6 597.1 539.2 598.8 539.8 633.2 540.4 600.0 541.0 652.3 541.6 605.7 542.2 638.6 542.8 597.0 543.4 610.9 544.4 585.0 544.9 562.0 545.9 539.0 546.8 516.0 547.5 493.0 547.6 470.0 548.6 447.0 548.8 424.0 549.6 401.0 550.3 378.0 550.7 355.0 551.7 332.0 552.5 309.0 553.1 286.0 553.4 263.0 555.1 240.0 556.7 217.0 556.2 217.5 557.2 217.5 556.5 217.0 558.7 240.0 559.6 263.0 560.3 286.0 561.4 309.0 561.8 332.0 563.0 355.0 563.7 378.0 564.9 401.0 565.4 424.0 566.1 447.0 566.7 470.0 566.9 493.0 568.1 516.0 568.7 539.0 569.1 562.0 569.9 585.0 571.3 590.3 573.5 601.1 574.7 602.0 575.3 600.2 575.9 632.8 576.5 607.3 577.1 659.8 577.7 596.5 578.3 654.0 578.9 592.3 579.5 648.6 580.1 593.2 580.7 642.7 581.3 593.1 581.9 612.3 582.5 644.1 583.1 598.7 583.7 602.9 584.3 610.8 584.9 662.7 585.5 602.2 586.1 653.0 586.7 604.0 587.3 651.5 587.9 655.9 588.5 607.4 589.1 655.6 589.7 603.7 590.3 604.1 590.9 630.6 591.5 595.1 592.1 585.0 592.8 562.8 593.8 540.5 594.8 518.3 595.5 496.1 595.7 473.8 596.6 451.6 596.8 429.3 597.5 407.1 598.1 384.9 598.8 362.6 599.4 340.4 600.0 318.1 600.9 295.9 601.3 273.7 602.9 251.4 604.9 229.2 604.2 229.7 605.2 229.7 604.9 229.2 606.4 251.4 608.2 273.7 608.4 295.9 609.2 318.1 610.2 340.4 611.0 362.6 611.9 384.9 612.6 407.1 613.9 429.3 614.5 451.6 614.9 473.8 615.3 496.1 616.0 518.3 616.5 540.5 617.2 562.8 617.9 585.0 618.3 591.4 621.9 599.2 622.7 607.3 623.3 593.6 623.9 623.6 624.5 588.6 625.1 602.8 625.7 625.6 626.3 591.9 626.9 632.2 627.5 597.4 628.1 624.8 628.7 591.5 629.3 592.0 629.9 643.4 630.5 597.6 631.1 634.3 631.7 595.7 632.3 598.8 632.9 617.3 633.5 594.9 634.1 619.9 634.7 601.2 635.3 633.3 635.9 606.5 636.5 640.3 637.1 596.8 637.7 623.0 638.3 604.9 638.9 623.0 639.5 601.3 640.0 585.0 640.7 563.0 641.8 540.9 642.1 518.9 643.1 496.8 643.8 474.8 644.5 452.7 644.5 430.7 645.6 408.6 646.0 386.6 646.5 364.6 647.3 342.5 648.1 320.5 648.4 298.4 649.5 276.4 650.7 254.3 652.5 232.3 652.0 232.8 653.0 232.8 652.3 232.3 654.4 254.3 655.5 276.4 656.0 298.4 656.8 320.5 658.0 342.5 658.5 364.6 659.4 386.6 660.3 408.6 661.3 430.7 662.1 452.7 662.8 474.8 662.9 496.8 663.6 518.9 664.6 540.9 665.1 563.0 666.0 585.0 666.4 591.8 668.8 601.3 670.5 606.7 671.1 592.3 671.7 588.0 672.3 594.6 672.9 633.1 673.5 592.1 674.1 644.9 674.7 589.1 675.3 639.2 675.9 590.6 676.5 656.9 677.1 592.7 677.7 651.8 678.3 586.7 678.9 661.1 679.5 610.4 680.1 634.8 680.7 602.9 681.3 586.7 681.9 652.4 682.5 595.6 683.1 650.9 683.7 605.1 684.3 633.9 684.9 607.4 685.5 588.4 686.1 651.2 686.7 642.0 687.3 594.9 687.9 598.5 688.5 648.8 689.1 591.7 689.7 604.5 690.2 585.0 691.1 564.7 691.9 544.4 692.6 524.1 693.4 503.8 693.8 483.4 694.3 463.1 695.2 442.8 695.6 422.5 696.6 402.2 697.1 381.9 697.7 361.6 698.7 341.2 699.0 320.9 699.4 300.6 700.8 280.3 703.0 260.0 702.3 260.5 703.3 260.5 703.0 260.0 704.8 280.3 705.9 300.6 706.7 320.9 707.4 341.2 708.4 361.6 709.2 381.9 710.2 402.2 710.7 422.5 711.8 442.8 712.2 463.1 712.8 483.4 713.1 503.8 713.7 524.1 714.6 544.4 715.4 564.7 716.5 585.0 717.4 593.4 720.0 600.2 720.8 601.4 721.4 619.4 722.0 630.2 722.6 592.3 723.2 640.7 723.8 605.0 724.4 627.1 725.0 605.5 725.6 629.8 726.2 609.6 726.8 605.7 727.4 641.7 728.0 594.9 728.6 638.6 729.2 589.5 729.8 641.6 730.4 592.7 731.0 648.3 731.6 651.6 732.2 630.3 732.8 601.7 733.4 648.4 734.0 608.0 734.6 635.6 735.2 590.1 736.0 585.0 736.7 560.5 737.6 536.0 738.0 511.5 739.3 486.9 739.5 462.4 740.0 437.9 740.9 413.4 741.4 388.9 741.9 364.4 742.5 339.9 743.5 315.4 743.8 290.9 744.6 266.3 745.1 241.8 746.7 217.3 748.4 192.8 747.9 193.3 748.9 193.3 748.5 192.8 750.2 217.3 751.8 241.8 752.0 266.3 753.1 290.9 753.7 315.4 755.0 339.9 755.3 364.4 756.6 388.9 757.5 413.4 757.8 437.9 758.5 462.4 759.0 486.9 759.6 511.5 760.1 536.0 760.9 560.5 762.1 585.0 763.1 591.4 766.1 598.6 766.4 599.7 767.0 605.3 767.6 589.8 768.2 597.8 768.8 589.9 769.4 598.3 770.0 587.5 770.6 604.3 771.2 586.3 771.8 608.2 772.4 613.5 773.0 610.6 773.6 613.1 774.2 586.8 774.8 599.4 775.4 584.2 776.0 601.8 776.6 587.4 777.2 599.0 777.8 590.0 778.4 602.7 779.0 605.8 779.6 591.7 780.2 590.6 780.8 594.4 781.3 585.0 782.0 563.0 783.0 541.0 783.7 519.0 784.7 496.9 784.7 474.9 785.4 452.9 786.1 430.9 786.8 408.9 787.1 386.9 787.8 364.9 788.7 342.9 789.1 320.9 790.0 298.8 790.8 276.8 792.0 254.8 794.0 232.8 793.3 233.3 794.3 233.3 793.7 232.8 795.3 254.8 796.8 276.8 797.7 298.8 798.5 320.9 799.3 342.9 800.0 364.9 800.7 386.9 802.0 408.9 802.6 430.9 803.1 452.9 803.9 474.9 804.4 496.9 805.1 519.0 805.8 541.0 806.5 563.0 807.5 585.0 807.3 591.0 810.5 599.6 811.8 599.9 812.4 607.2 813.0 598.0 813.6 608.8 814.2 598.2 814.8 610.3 815.4 591.0 816.0 612.9 816.6 588.5 817.2 619.5 817.8 592.0 818.4 618.4 819.0 587.6 819.6 631.1 820.2 602.8 820.8 623.4 821.4 619.6 822.0 621.1 822.6 622.5 823.2 589.9 823.8 616.3 824.4 614.6 825.0 590.0 825.6 610.5 826.2 587.7 826.8 615.4 827.4 595.8 828.0 610.2 828.6 612.7 829.2 618.2 829.8 595.7 830.4 594.6 831.0 620.0 831.6 604.6 832.3 585.0 833.1 562.5 833.8 539.9 834.8 517.4 835.2 494.8 836.1 472.3 836.7 449.7 837.2 427.2 837.5 404.6 838.5 382.1 839.1 359.6 839.4 337.0 840.1 314.5 840.8 291.9 841.4 269.4 842.8 246.8 845.0 224.3 844.3 224.8 845.3 224.8 845.0 224.3 846.4 246.8 848.1 269.4 848.9 291.9 849.1 314.5 850.2 337.0 851.1 359.6 852.0 382.1 853.0 404.6 853.7 427.2 854.3 449.7 854.7 472.3 855.4 494.8 856.0 517.4 856.6 539.9 857.3 562.5 858.4 585.0 858.6 591.9 861.4 600.7 862.8 607.1 863.4 599.0 864.0 611.6 864.6 615.9 865.2 592.4 865.8 611.7 866.4 586.0 867.0 617.1 867.6 595.7 868.2 623.6 868.8 590.2 869.4 630.1 870.0 582.9 870.6 615.1 871.2 584.8 871.8 616.3 872.4 590.5 873.0 597.6 873.6 609.4 874.2 590.2 874.8 616.3 875.4 594.9 876.0 621.0 876.6 594.5 877.2 618.0 877.8 591.5 878.4 611.7 879.0 598.6 879.6 618.1 880.2 591.9 881.2 585.0 881.8 562.9 882.7 540.8 883.6 518.7 884.1 496.6 884.4 474.6 884.9 452.5 885.6 430.4 886.3 408.3 887.4 386.2 887.4 364.1 888.3 342.0 888.9 319.9 889.4 297.9 890.1 275.8 891.9 253.7 893.7 231.6 893.0 232.1 894.0 232.1 893.5 231.6 895.5 253.7 896.6 275.8 897.2 297.9 898.1 319.9 898.8 342.0 900.0 364.1 900.8 386.2 901.7 408.3 902.3 430.4 903.3 452.5 903.7 474.6 903.7 496.6 904.9 518.7 905.4 540.8 906.4 562.9 907.3 585.0 908.3 590.1 909.9 599.6 911.5 600.1 912.1 614.6 912.7 593.3 913.3 619.3 913.9 591.1 914.5 629.1 915.1 588.4 915.7 643.5 916.3 587.2 916.9 629.6 917.5 589.4 918.1 592.8 918.7 589.8 919.3 646.3 919.9 594.5 920.5 638.2 921.1 605.9 921.7 638.7 922.3 591.0 922.9 636.0 923.5 632.3 924.1 599.7 924.7 627.9 925.3 587.9 925.9 593.9 926.5 631.3 927.1 596.8 927.7 631.9 928.3 597.5 929.5 585.0 929.9 561.9 931.1 538.8 931.8 515.7 932.5 492.6 933.1 469.5 933.3 446.4 933.8 423.3 934.7 400.1 935.1 377.0 936.0 353.9 936.4 330.8 937.3 307.7 937.7 284.6 938.6 261.5 939.8 238.4 941.7 215.3 941.3 215.8 942.3 215.8 941.6 215.3 943.3 238.4 945.1 261.5 945.6 284.6 946.0 307.7 947.3 330.8 948.2 353.9 948.7 377.0 949.7 400.1 950.9 423.3 951.6 446.4 951.7 469.5 952.4 492.6 953.2 515.7 954.0 538.8 954.6 561.9 955.5 585.0 956.4 594.0 959.3 600.6 959.8 599.5 960.4 612.4 961.0 614.1 961.6 590.7 962.2 622.6 962.8 588.1 963.4 622.8 964.0 589.0 964.6 628.6 965.2 637.2 965.8 593.3 966.4 629.4 967.0 599.8 967.6 632.3 968.2 592.8 968.8 630.5 969.4 620.6 970.0 593.9 970.6 629.4 971.2 588.1 971.8 624.2 972.4 587.7 973.0 631.5 973.6 589.2 974.2 634.1 974.8 601.7 975.4 592.3 976.0 623.0 976.6 591.9 977.2 603.6 977.6 585.0 978.7 566.2 979.5 547.5 980.1 528.8 981.1 510.0 981.7 491.2 981.9 472.5 982.5 453.8 983.0 435.0 983.6 416.2 984.3 397.5 985.1 378.8 986.0 360.0 986.4 341.2 987.3 322.5 988.2 303.8 990.3 285.0 989.8 285.5 990.8 285.5 990.2 285.0 992.4 303.8 993.3 322.5 994.1 341.2 994.8 360.0 995.6 378.8 996.8 397.5 997.6 416.2 998.1 435.0 999.1 453.8 1000.0 472.5 1000.2 491.2 1000.7 510.0 1001.2 528.8 1002.5 547.5 1003.2 566.2 1004.0 585.0 1004.4 591.1 1006.8 600.1 1008.3 607.8 1008.9 597.3 1009.5 624.5 1010.1 599.0 1010.7 631.5 1011.3 638.4 1011.9 595.9 1012.5 605.4 1013.1 630.9 1013.7 591.7 1014.3 635.2 1014.9 593.8 1015.5 588.1 1016.1 643.9 1016.7 638.9 1017.3 600.9 1017.9 624.2 1018.5 637.3 1019.1 626.6 1019.7 596.0 1020.3 619.9 1020.9 599.9 1021.5 627.1 1022.1 596.8 1022.7 624.4 1023.3 601.0 1023.9 637.3 1024.5 597.9 1025.1 610.0 1025.8 585.0 1026.4 565.6 1027.2 546.1 1028.1 526.7 1029.0 507.3 1029.7 487.8 1030.3 468.4 1030.9 449.0 1031.3 429.6 1032.1 410.1 1032.9 390.7 1033.0 371.3 1033.8 351.8 1034.7 332.4 1034.9 313.0 1036.5 293.5 1038.3 274.1 1037.9 274.6 1038.9 274.6 1038.3 274.1 1040.0 293.5 1041.5 313.0 1042.0 332.4 1042.7 351.8 1043.8 371.3 1045.0 390.7 1045.5 410.1 1046.6 429.6 1047.1 449.0 1048.1 468.4 1048.2 487.8 1048.6 507.3 1049.8 526.7 1050.3 546.1 1051.0 565.6 1052.0 585.0 1052.8 591.7 1055.3 599.9 1056.4 607.2 1057.0 596.8 1057.6 588.4 1058.2 622.7 1058.8 600.8 1059.4 621.2 1060.0 589.2 1060.6 622.9 1061.2 600.7 1061.8 633.7 1062.4 602.9 1063.0 606.6 1063.6 606.8 1064.2 590.6 1064.8 631.1 1065.4 637.6 1066.0 640.0 1066.6 592.0 1067.2 643.2 1067.8 625.9 1068.4 592.9 1069.0 626.1 1069.6 594.5 1070.2 623.9 1070.8 596.8 1071.4 623.1 1072.0 590.4 1072.6 601.4 1073.1 585.0 1074.0 561.3 1074.5 537.6 1075.6 514.0 1076.2 490.3 1076.8 466.6 1077.6 442.9 1078.1 419.2 1078.7 395.5 1079.3 371.9 1080.1 348.2 1080.3 324.5 1081.3 300.8 1082.1 277.1 1082.4 253.5 1084.2 229.8 1085.7 206.1 1085.2 206.6 1086.2 206.6 1085.6 206.1 1087.4 229.8 1089.1 253.5 1089.5 277.1 1090.4 300.8 1091.2 324.5 1091.9 348.2 1092.7 371.9 1093.7 395.5 1094.8 419.2 1095.3 442.9 1095.5 466.6 1096.1 490.3 1096.6 514.0 1097.3 537.6 1098.6 561.3 1099.3 585.0 1101.0 588.8 1102.0 604.6 1103.0 614.5 1104.0 617.8 1105.0 588.3 1106.0 627.3 1107.0 636.1 1108.0 606.3 1109.0 600.3 1110.0 625.9 1111.0 625.7 1112.0 590.3 1113.0 631.9 1114.0 604.5 1115.0 620.4 1116.0 601.8 1117.0 628.4 1118.0 594.8 1119.0 630.7 1120.0 600.1 1121.0 592.5 1122.0 601.0 1123.0 604.4 1124.0 633.5 1125.0 593.3 1126.0 631.5 1127.0 594.4 1128.0 627.6 1129.0 631.7 1130.0 600.1 1131.0 605.3 1132.0 631.8 1133.0 604.8 1134.0 631.3 1135.0 598.3 1136.0 629.4 1137.0 631.7 1138.0 606.8 1139.0 629.5 1140.0 635.7 1141.0 594.5 1142.0 629.1 1143.0 605.0 1144.0 641.4 1145.0 601.7 1146.0 646.6 1147.0 611.9 1148.0 643.7 1149.0 599.2 1150.0 629.2 1151.0 631.8 1152.0 622.9 1153.0 596.9 1154.0 590.4 1155.0 599.8 1156.0 619.3 1157.0 599.1 1158.0 617.7 1159.0 597.5 1160.0 625.3 1161.0 591.4 1162.0 620.4 1163.0 595.4 1164.0 627.1 1165.0 589.3 1166.0 623.3 1167.0 591.2 1168.0 631.4 1169.0 602.5 1170.0 620.7 1171.0 593.0 1172.0 615.7 1173.0 596.3 1174.0 598.7 1175.0 624.6 1176.0 590.8 1177.0 622.0 1178.0 602.6 1179.0 622.3 1180.0 600.0 1181.0 620.1 1182.0 631.2 1183.0 599.6 1184.0 624.6 1185.0 634.8 1186.0 603.0 1187.0 606.0 1188.0 637.2 1189.0 625.8 1190.0 594.2 1191.0 629.8 1192.0 605.8 1193.0 629.3 1194.0 594.6 1195.0 594.3 1196.0 638.9 1197.0 606.2 1198.0 632.5 1199.0 608.0 1200.0 629.0 1201.0 625.5 1202.0 605.5 1203.0 636.2 1204.0 592.9 1205.0 609.1 1206.0 631.8 1207.0 604.3 1208.0 605.4 1209.0 636.3 1210.0 634.3 1211.0 603.4 1212.0 635.9" fill="none" stroke="#0404f4" stroke-width="4.8" stroke-linejoin="round" stroke-linecap="round"/>
<path d="M97.0 590.0 98.5 590.0 98.5 590.0 101.5 590.0 101.5 588.0 105.0 588.0 105.0 578.0 108.0 578.0 108.0 574.0 110.0 574.0 110.0 577.0 112.0 577.0 112.0 579.0 114.0 579.0 114.0 582.0 116.0 582.0 116.0 582.0 119.0 582.0 119.0 581.0 122.0 581.0 122.0 598.0 124.0 598.0 124.0 598.0 126.0 598.0 126.0 598.0 128.2 598.0 128.2 575.0 130.8 575.0 130.8 576.0 133.2 576.0 133.2 603.0 135.4 603.0 135.4 603.0 138.7 603.0 138.7 602.0 142.5 602.0 142.5 600.0 145.5 600.0 145.5 580.0 148.5 580.0 148.5 579.0 151.8 579.0 151.8 579.0 155.3 579.0 155.3 578.0 157.8 578.0 157.8 653.0 160.1 653.0 160.1 658.0 162.8 658.0 162.8 660.0 166.3 660.0 166.3 661.0 169.1 661.0 169.1 663.0 170.8 663.0 170.8 674.0 173.5 674.0 173.5 678.0 175.8 678.0 175.8 716.0 177.3 716.0 177.3 713.0 180.8 713.0 180.8 702.0 185.2 702.0 185.2 690.0 189.3 690.0 189.3 698.0 192.8 698.0 192.8 704.0 195.1 704.0 195.1 727.0 198.5 727.0 198.5 703.0 201.4 703.0 201.4 700.0 203.7 700.0 203.7 701.0 206.6 701.0 206.6 701.0 210.0 701.0 210.0 716.0 214.6 716.0 214.6 718.0 218.1 718.0 218.1 720.0 221.5 720.0 221.5 709.0 225.5 709.0 225.5 727.0 227.8 727.0 227.8 727.0 230.7 727.0 230.7 726.0 235.8 726.0 235.8 730.0 239.3 730.0 239.3 730.0 243.4 730.0 243.4 722.0 250.2 722.0 250.2 730.0 255.4 730.0 255.4 718.0 257.7 718.0 257.7 713.0 260.0 713.0 260.0 707.0 263.4 707.0 263.4 733.0 265.8 733.0 265.8 737.0 268.1 737.0 268.1 734.0 271.0 734.0 271.0 730.0 274.4 730.0 274.4 732.0 279.0 732.0 279.0 746.0 284.8 746.0 284.8 741.0 289.4 741.0 289.4 748.0 291.1 748.0 291.1 750.0 294.5 750.0 294.5 723.0 299.7 723.0 299.7 744.0 304.3 744.0 304.3 734.0 307.1 734.0 307.1 732.0 308.9 732.0 308.9 745.0 310.6 745.0 310.6 758.0 312.4 758.0 312.4 794.0 314.5 794.0 314.5 798.0 315.5 798.0 315.5 847.0 314.5 847.0 314.5 837.0 312.4 837.0 312.4 821.0 310.6 821.0 310.6 810.0 308.9 810.0 308.9 794.0 307.1 794.0 307.1 792.0 304.3 792.0 304.3 785.0 299.7 785.0 299.7 785.0 294.5 785.0 294.5 792.0 291.1 792.0 291.1 794.0 289.4 794.0 289.4 790.0 284.8 790.0 284.8 782.0 279.0 782.0 279.0 773.0 274.4 773.0 274.4 782.0 271.0 782.0 271.0 789.0 268.1 789.0 268.1 777.0 265.8 777.0 265.8 771.0 263.4 771.0 263.4 771.0 260.0 771.0 260.0 771.0 257.7 771.0 257.7 772.0 255.4 772.0 255.4 778.0 250.2 778.0 250.2 780.0 243.4 780.0 243.4 794.0 239.3 794.0 239.3 790.0 235.8 790.0 235.8 766.0 230.7 766.0 230.7 774.0 227.8 774.0 227.8 774.0 225.5 774.0 225.5 762.0 221.5 762.0 221.5 764.0 218.1 764.0 218.1 766.0 214.6 766.0 214.6 780.0 210.0 780.0 210.0 772.0 206.6 772.0 206.6 766.0 203.7 766.0 203.7 770.0 201.4 770.0 201.4 772.0 198.5 772.0 198.5 762.0 195.1 762.0 195.1 760.0 192.8 760.0 192.8 759.0 189.3 759.0 189.3 762.0 185.2 762.0 185.2 766.0 180.8 766.0 180.8 775.0 177.3 775.0 177.3 775.0 175.8 775.0 175.8 776.0 173.5 776.0 173.5 778.0 170.8 778.0 170.8 800.0 169.1 800.0 169.1 800.0 166.3 800.0 166.3 784.0 162.8 784.0 162.8 784.0 160.1 784.0 160.1 784.0 157.8 784.0 157.8 787.0 155.3 787.0 155.3 798.0 151.8 798.0 151.8 798.0 148.5 798.0 148.5 762.0 145.5 762.0 145.5 706.0 142.5 706.0 142.5 715.0 138.7 715.0 138.7 715.0 135.4 715.0 135.4 647.0 133.2 647.0 133.2 644.0 130.8 644.0 130.8 662.0 128.2 662.0 128.2 832.0 126.0 832.0 126.0 838.0 124.0 838.0 124.0 837.0 122.0 837.0 122.0 652.0 119.0 652.0 119.0 648.0 116.0 648.0 116.0 640.0 114.0 640.0 114.0 618.0 112.0 618.0 112.0 617.0 110.0 617.0 110.0 616.0 108.0 616.0 108.0 642.0 105.0 642.0 105.0 644.0 101.5 644.0 101.5 648.0 98.5 648.0 98.5 652.0 97.0 652.0Z" fill="#fa0404"/>
<path d="M310.0 848.0 311.0 843.0 310.8 838.0 311.9 833.0 310.9 828.0 312.4 823.0 312.8 818.0 312.7 813.0 313.2 808.0 312.6 803.0 314.4 798.0 313.7 793.0 323.4 793.0 324.1 798.0 324.4 803.0 322.4 808.0 323.6 813.0 322.4 818.0 323.2 823.0 322.9 828.0 322.7 833.0 320.1 838.0 320.6 843.0 320.9 848.0Z" fill="#fa0404"/>
<path d="M338.8 583.8 339.4 579.8 340.0 575.8 340.5 571.8 341.1 567.8 341.7 563.8 342.3 559.8 342.8 555.8 347.4 555.8 347.6 559.8 347.9 563.8 348.1 567.8 348.3 571.8 348.5 575.8 348.7 579.8 348.9 583.8 348.9 587.7 343.9 586.9 338.8 588.4Z" fill="#fa0404"/>
<path d="M356.0 850.9 356.3 845.9 356.8 840.9 358.3 835.9 357.9 830.9 357.7 825.9 358.6 820.9 357.7 815.9 358.0 810.9 358.1 805.9 360.4 800.9 359.5 795.9 370.8 795.9 369.1 800.9 368.5 805.9 369.2 810.9 367.5 815.9 368.3 820.9 367.1 825.9 366.8 830.9 368.0 835.9 367.4 840.9 367.2 845.9 367.5 850.9Z" fill="#fa0404"/>
<path d="M385.0 582.7 385.5 578.7 386.1 574.7 386.7 570.7 387.2 566.7 387.8 562.7 388.4 558.7 388.8 555.8 397.3 555.8 397.6 559.8 397.8 563.8 398.0 567.8 398.2 571.8 398.5 575.8 398.7 579.8 398.8 583.8 398.8 583.9 391.9 589.7 385.0 584.4Z" fill="#fa0404"/>
<path d="M405.6 829.8 406.1 824.8 405.0 819.8 406.6 814.8 405.3 809.8 405.8 804.8 406.4 799.8 406.3 794.8 406.7 789.8 407.6 784.8 408.2 779.8 409.0 774.8 418.8 774.8 417.1 779.8 418.5 784.8 416.3 789.8 416.7 794.8 417.5 799.8 415.8 804.8 416.0 809.8 415.5 814.8 414.7 819.8 414.4 824.8 414.6 829.8Z" fill="#fa0404"/>
<path d="M430.4 593.6 430.9 589.6 431.5 585.6 432.1 581.6 432.6 577.6 433.2 573.6 433.8 569.6 434.2 566.8 447.1 566.8 447.3 570.8 447.6 574.8 447.8 578.8 448.0 582.8 448.1 586.8 448.3 590.8 448.5 594.8 448.5 596.4 439.5 594.5 430.4 596.5Z" fill="#fa0404"/>
<path d="M453.8 818.5 453.2 813.5 453.7 808.5 453.5 803.5 454.6 798.5 454.6 793.5 456.2 788.5 455.7 783.5 456.2 778.5 455.5 773.5 456.0 768.5 455.9 763.5 467.5 763.5 467.5 768.5 465.5 773.5 465.3 778.5 466.2 783.5 464.7 788.5 466.0 793.5 464.6 798.5 464.1 803.5 463.3 808.5 464.5 813.5 462.6 818.5Z" fill="#fa0404"/>
<path d="M480.6 578.3 481.2 574.3 481.8 570.3 482.4 566.3 482.9 562.3 483.5 558.3 484.1 554.3 484.4 550.8 494.5 550.8 494.7 554.8 495.0 558.8 495.2 562.8 495.4 566.8 495.6 570.8 495.9 574.8 496.1 578.8 496.1 583.0 488.4 587.6 480.6 583.7Z" fill="#fa0404"/>
<path d="M502.9 847.6 503.2 842.6 504.2 837.6 504.4 832.6 505.9 827.6 504.1 822.6 504.5 817.6 505.7 812.6 505.0 807.6 505.7 802.6 506.2 797.6 507.9 792.6 516.6 792.6 515.6 797.6 515.7 802.6 516.8 807.6 514.4 812.6 515.7 817.6 516.1 822.6 515.6 827.6 514.1 832.6 513.8 837.6 515.1 842.6 514.0 847.6Z" fill="#fa0404"/>
<path d="M532.9 575.4 533.5 571.4 534.1 567.4 534.6 563.4 535.2 559.4 535.8 555.4 536.2 551.4 536.5 547.5 542.8 547.5 543.0 551.5 543.3 555.5 543.5 559.5 543.7 563.5 544.0 567.5 544.2 571.5 544.4 575.5 544.4 579.3 538.7 576.0 532.9 579.3Z" fill="#fa0404"/>
<path d="M550.2 805.6 549.5 800.6 550.5 795.6 549.9 790.6 551.1 785.6 552.4 780.6 550.7 775.6 552.7 770.6 552.8 765.6 553.1 760.6 553.6 755.6 552.5 750.6 562.9 750.6 562.5 755.6 562.9 760.6 562.1 765.6 561.6 770.6 562.2 775.6 562.1 780.6 560.6 785.6 560.6 790.6 560.6 795.6 561.1 800.6 560.8 805.6Z" fill="#fa0404"/>
<path d="M575.8 581.4 576.4 577.4 577.0 573.4 577.5 569.4 578.1 565.4 578.7 561.4 579.3 557.4 579.7 554.0 590.6 554.0 590.9 558.0 591.1 562.0 591.3 566.0 591.6 570.0 591.8 574.0 592.0 578.0 592.2 582.0 592.2 588.6 584.0 581.8 575.8 583.6Z" fill="#fa0404"/>
<path d="M597.4 834.7 598.7 829.7 599.6 824.7 599.1 819.7 599.4 814.7 599.8 809.7 599.9 804.7 601.5 799.7 600.7 794.7 601.2 789.7 601.3 784.7 600.9 779.7 612.5 779.7 610.9 784.7 610.6 789.7 611.3 794.7 611.8 799.7 610.4 804.7 610.2 809.7 609.4 814.7 610.1 819.7 608.5 824.7 608.6 829.7 609.5 834.7Z" fill="#fa0404"/>
<path d="M630.4 550.5 630.7 546.5 631.0 542.5 631.3 538.5 631.6 534.5 631.9 530.5 632.2 526.5 632.5 522.5 632.7 519.8 637.5 519.8 637.7 523.8 637.9 527.8 638.0 531.8 638.2 535.8 638.4 539.8 638.6 543.8 638.8 547.8 639.1 551.8 639.1 554.1 634.7 555.7 630.4 554.0Z" fill="#fa0404"/>
<path d="M645.2 808.8 647.1 803.8 645.6 798.8 647.8 793.8 648.0 788.8 648.1 783.8 648.0 778.8 648.7 773.8 648.1 768.8 648.8 763.8 649.9 758.8 650.1 753.8 659.4 753.8 658.2 758.8 658.8 763.8 658.9 768.8 656.9 773.8 656.9 778.8 658.3 783.8 657.8 788.8 657.5 793.8 656.0 798.8 655.8 803.8 656.7 808.8Z" fill="#fa0404"/>
<path d="M674.0 568.6 674.5 564.6 675.1 560.6 675.7 556.6 676.2 552.6 676.5 548.6 676.8 544.6 677.1 540.8 689.4 540.8 689.7 544.8 689.9 548.8 690.1 552.8 690.4 556.8 690.6 560.8 690.8 564.8 691.0 568.8 691.0 574.7 682.5 574.7 674.0 570.7Z" fill="#fa0404"/>
<path d="M696.5 782.9 695.7 777.9 697.0 772.9 696.5 767.9 697.8 762.9 696.7 757.9 697.8 752.9 698.8 747.9 698.3 742.9 698.7 737.9 699.3 732.9 698.8 727.9 710.8 727.9 710.5 732.9 710.2 737.9 709.5 742.9 707.4 747.9 706.9 752.9 707.7 757.9 706.5 762.9 707.0 767.9 707.9 772.9 707.5 777.9 706.5 782.9Z" fill="#fa0404"/>
<path d="M721.1 578.7 721.6 574.7 722.2 570.7 722.8 566.7 723.4 562.7 723.9 558.7 724.5 554.7 724.9 551.2 733.4 551.2 733.7 555.2 733.9 559.2 734.1 563.2 734.3 567.2 734.6 571.2 734.8 575.2 735.0 579.2 735.0 581.3 728.0 579.2 721.1 581.0Z" fill="#fa0404"/>
<path d="M740.7 792.6 739.6 787.6 739.5 782.6 741.9 777.6 740.8 772.6 742.5 767.6 741.0 762.6 742.9 757.6 742.3 752.6 743.4 747.6 743.1 742.6 742.9 737.6 752.6 737.6 753.7 742.6 752.9 747.6 751.5 752.6 752.4 757.6 752.5 762.6 752.5 767.6 750.1 772.6 751.4 777.6 750.7 782.6 751.3 787.6 750.2 792.6Z" fill="#fa0404"/>
<path d="M769.4 548.4 769.7 544.4 770.0 540.4 770.3 536.4 770.6 532.4 770.9 528.4 771.2 524.4 771.5 520.4 771.8 516.4 772.0 514.0 784.5 514.0 784.7 518.0 784.8 522.0 785.0 526.0 785.2 530.0 785.3 534.0 785.5 538.0 785.7 542.0 785.9 546.0 786.2 550.0 786.2 553.6 777.8 554.4 769.4 551.3Z" fill="#fa0404"/>
<path d="M790.8 761.9 792.5 756.9 791.2 751.9 791.6 746.9 793.9 741.9 792.5 736.9 794.3 731.9 793.3 726.9 794.1 721.9 793.5 716.9 794.8 711.9 796.2 706.9 805.5 706.9 805.2 711.9 805.6 716.9 805.4 721.9 803.6 726.9 804.2 731.9 802.1 736.9 803.0 741.9 802.3 746.9 801.3 751.9 802.1 756.9 801.9 761.9Z" fill="#fa0404"/>
<path d="M817.1 565.7 817.7 561.7 818.2 557.7 818.8 553.7 819.2 549.7 819.5 545.7 819.8 541.7 820.1 537.7 820.4 533.7 820.6 530.2 832.6 530.2 832.7 534.2 832.9 538.2 833.1 542.2 833.3 546.2 833.6 550.2 833.8 554.2 834.0 558.2 834.3 562.2 834.5 566.2 834.5 573.3 825.8 574.2 817.1 570.5Z" fill="#fa0404"/>
<path d="M841.0 795.9 840.6 790.9 841.2 785.9 840.1 780.9 840.9 775.9 841.0 770.9 842.3 765.9 842.0 760.9 842.7 755.9 842.9 750.9 844.0 745.9 843.8 740.9 853.3 740.9 854.1 745.9 852.5 750.9 853.8 755.9 851.3 760.9 852.2 765.9 850.9 770.9 850.6 775.9 851.9 780.9 852.0 785.9 849.9 790.9 848.9 795.9Z" fill="#fa0404"/>
<path d="M868.1 563.7 868.6 559.7 869.2 555.7 869.7 551.7 870.0 547.7 870.3 543.7 870.6 539.7 870.9 535.7 871.2 531.7 871.5 527.7 871.7 525.3 879.4 525.3 879.6 529.3 879.7 533.3 879.9 537.3 880.1 541.3 880.3 545.3 880.6 549.3 880.8 553.3 881.0 557.3 881.3 561.3 881.5 565.3 881.5 565.4 874.8 563.5 868.1 565.8Z" fill="#fa0404"/>
<path d="M888.2 794.2 887.7 789.2 887.1 784.2 888.2 779.2 887.3 774.2 888.2 769.2 890.0 764.2 889.6 759.2 890.0 754.2 890.2 749.2 889.8 744.2 890.9 739.2 900.8 739.2 901.0 744.2 900.6 749.2 898.6 754.2 898.9 759.2 898.0 764.2 899.6 769.2 897.9 774.2 896.9 779.2 897.7 784.2 898.0 789.2 896.2 794.2Z" fill="#fa0404"/>
<path d="M915.8 558.0 916.3 554.0 916.7 550.0 917.0 546.0 917.3 542.0 917.6 538.0 917.9 534.0 918.2 530.0 918.5 526.0 918.8 522.0 919.1 518.0 919.2 517.2 928.8 517.2 929.0 521.2 929.2 525.2 929.3 529.2 929.5 533.2 929.6 537.2 929.9 541.2 930.1 545.2 930.3 549.2 930.6 553.2 930.8 557.2 931.0 561.2 931.0 562.8 923.4 558.7 915.8 564.8Z" fill="#fa0404"/>
<path d="M935.9 786.1 937.8 781.1 937.2 776.1 938.4 771.1 939.0 766.1 937.4 761.1 937.7 756.1 939.8 751.1 939.9 746.1 939.0 741.1 939.2 736.1 940.7 731.1 950.2 731.1 949.9 736.1 949.5 741.1 948.5 746.1 950.0 751.1 949.7 756.1 947.7 761.1 949.1 766.1 946.9 771.1 946.6 776.1 947.0 781.1 946.0 786.1Z" fill="#fa0404"/>
<path d="M962.5 573.9 963.0 569.9 963.6 565.9 964.2 561.9 964.7 557.9 965.3 553.9 965.7 549.9 966.0 545.9 966.3 541.9 966.6 537.9 966.8 535.0 975.9 535.0 976.0 539.0 976.3 543.0 976.5 547.0 976.7 551.0 977.0 555.0 977.2 559.0 977.4 563.0 977.6 567.0 977.9 571.0 978.1 575.0 978.1 575.7 970.3 572.9 962.5 579.8Z" fill="#fa0404"/>
<path d="M983.5 773.2 981.9 768.2 983.6 763.2 982.4 758.2 984.9 753.2 984.4 748.2 983.6 743.2 984.8 738.2 984.1 733.2 984.8 728.2 986.7 723.2 986.7 718.2 996.2 718.2 995.2 723.2 995.6 728.2 995.8 733.2 994.3 738.2 994.0 743.2 995.2 748.2 994.7 753.2 992.8 758.2 992.0 763.2 992.5 768.2 993.2 773.2Z" fill="#fa0404"/>
<path d="M1007.7 573.0 1008.2 569.0 1008.8 565.0 1009.4 561.0 1009.9 557.0 1010.5 553.0 1010.8 549.0 1011.1 545.0 1011.4 541.0 1011.7 537.0 1011.8 536.6 1023.8 536.6 1024.0 540.6 1024.3 544.6 1024.5 548.6 1024.7 552.6 1024.9 556.6 1025.2 560.6 1025.4 564.6 1025.6 568.6 1025.9 572.6 1026.1 576.6 1026.1 580.7 1016.9 577.0 1007.7 577.6Z" fill="#fa0404"/>
<path d="M1031.3 795.9 1030.7 790.9 1032.4 785.9 1031.8 780.9 1032.1 775.9 1031.7 770.9 1033.1 765.9 1034.4 760.9 1032.9 755.9 1033.0 750.9 1034.8 745.9 1033.9 740.9 1044.5 740.9 1043.8 745.9 1044.0 750.9 1043.5 755.9 1042.4 760.9 1042.6 765.9 1042.2 770.9 1042.5 775.9 1042.0 780.9 1041.7 785.9 1042.1 790.9 1042.1 795.9Z" fill="#fa0404"/>
<path d="M1057.3 575.7 1057.9 571.7 1058.5 567.7 1059.1 563.7 1059.6 559.7 1060.2 555.7 1060.7 551.7 1061.0 547.7 1061.3 543.7 1061.6 539.7 1061.9 535.7 1062.2 531.8 1073.5 531.8 1073.6 535.8 1073.8 539.8 1074.0 543.8 1074.3 547.8 1074.5 551.8 1074.7 555.8 1075.0 559.8 1075.2 563.8 1075.4 567.8 1075.6 571.8 1075.8 575.8 1075.8 581.8 1066.6 582.8 1057.3 576.5Z" fill="#fa0404"/>
<path d="M1077.8 672.0 1080.8 700.0 1081.8 740.0 1083.8 764.0 1086.8 762.0 1089.8 730.0 1092.8 700.0 1093.8 672.0Z" fill="#fa0404"/>
<path d="M1102.0 543.0 1103.0 543.0 1103.0 542.0 1106.4 542.0 1106.4 538.0 1111.2 538.0 1111.2 532.0 1116.8 532.0 1116.8 533.0 1122.4 533.0 1122.4 534.0 1126.4 534.0 1126.4 555.0 1130.4 555.0 1130.4 558.0 1134.4 558.0 1134.4 554.0 1137.6 554.0 1137.6 552.0 1141.6 552.0 1141.6 571.0 1144.8 571.0 1144.8 568.0 1148.0 568.0 1148.0 550.0 1151.2 550.0 1151.2 551.0 1154.4 551.0 1154.4 564.0 1159.2 564.0 1159.2 554.0 1162.4 554.0 1162.4 548.0 1165.6 548.0 1165.6 558.0 1168.8 558.0 1168.8 568.0 1172.8 568.0 1172.8 542.0 1176.8 542.0 1176.8 546.0 1180.0 546.0 1180.0 568.0 1183.2 568.0 1183.2 567.0 1187.2 567.0 1187.2 566.0 1192.0 566.0 1192.0 567.0 1195.2 567.0 1195.2 568.0 1200.0 568.0 1200.0 574.0 1206.4 574.0 1206.4 563.0 1210.8 563.0 1210.8 563.0 1212.0 563.0 1212.0 623.0 1210.8 623.0 1210.8 623.0 1206.4 623.0 1206.4 623.0 1200.0 623.0 1200.0 618.0 1195.2 618.0 1195.2 616.0 1192.0 616.0 1192.0 618.0 1187.2 618.0 1187.2 623.0 1183.2 623.0 1183.2 617.0 1180.0 617.0 1180.0 604.0 1176.8 604.0 1176.8 604.0 1172.8 604.0 1172.8 608.0 1168.8 608.0 1168.8 610.0 1165.6 610.0 1165.6 597.0 1162.4 597.0 1162.4 588.0 1159.2 588.0 1159.2 602.0 1154.4 602.0 1154.4 623.0 1151.2 623.0 1151.2 617.0 1148.0 617.0 1148.0 610.0 1144.8 610.0 1144.8 611.0 1141.6 611.0 1141.6 614.0 1137.6 614.0 1137.6 616.0 1134.4 616.0 1134.4 627.0 1130.4 627.0 1130.4 636.0 1126.4 636.0 1126.4 617.0 1122.4 617.0 1122.4 604.0 1116.8 604.0 1116.8 614.0 1111.2 614.0 1111.2 623.0 1106.4 623.0 1106.4 648.0 1103.0 648.0 1103.0 622.0 1102.0 622.0Z" fill="#fa0404"/>
<path d="M332.5 648.0 333.0 645.9 333.4 643.4 333.9 639.2 334.3 635.7 334.8 629.8 335.6 625.5 336.4 622.1 337.2 616.9 338.0 612.2 338.8 610.3 339.6 604.9 340.2 601.5 340.7 598.0 341.2 593.3 341.8 588.7" fill="none" stroke="#fa0404" stroke-width="5.5" stroke-linejoin="round" stroke-linecap="round"/>
<path d="M378.6 648.4 379.1 645.9 379.5 641.5 380.0 636.5 380.4 634.8 381.0 630.5 381.8 626.2 382.6 621.1 383.4 618.8 384.2 614.8 385.0 607.3 385.7 606.5 386.3 601.7 386.8 596.8 387.3 592.1 387.9 589.4" fill="none" stroke="#fa0404" stroke-width="5.5" stroke-linejoin="round" stroke-linecap="round"/>
<path d="M425.7 647.9 426.1 644.7 426.6 639.5 427.0 634.2 427.5 632.0 428.1 629.0 428.9 622.4 429.7 619.6 430.5 616.8 431.3 611.3 432.1 606.0 432.8 603.9 433.4 598.5 433.9 595.4 434.4 592.9" fill="none" stroke="#fa0404" stroke-width="5.5" stroke-linejoin="round" stroke-linecap="round"/>
<path d="M473.7 649.8 474.2 644.2 474.6 639.6 475.1 638.0 475.5 632.9 476.1 628.1 476.9 625.8 477.7 622.4 478.5 614.7 479.3 613.1 480.1 609.7 480.9 604.3 481.4 601.2 481.9 594.7 482.5 591.9 483.0 587.1" fill="none" stroke="#fa0404" stroke-width="5.5" stroke-linejoin="round" stroke-linecap="round"/>
<path d="M525.5 649.7 525.9 646.5 526.3 640.0 526.8 636.0 527.2 635.3 527.7 628.0 528.5 626.4 529.3 622.3 530.1 617.1 530.9 615.5 531.7 610.6 532.5 604.1 533.1 602.0 533.6 598.1 534.2 595.5 534.7 591.2" fill="none" stroke="#fa0404" stroke-width="5.5" stroke-linejoin="round" stroke-linecap="round"/>
<path d="M569.5 649.0 569.9 642.3 570.3 640.4 570.8 636.3 571.2 629.9 571.9 627.5 572.7 622.6 573.5 618.1 574.3 616.8 575.1 612.2 575.9 607.5 576.6 605.2 577.1 599.1 577.7 596.7 578.2 591.1" fill="none" stroke="#fa0404" stroke-width="5.5" stroke-linejoin="round" stroke-linecap="round"/>
<path d="M619.7 647.0 620.1 644.3 620.6 640.4 621.0 635.7 621.5 631.2 622.0 630.5 622.8 625.0 623.6 622.5 624.4 618.7 625.2 614.5 626.0 607.9 626.8 604.4 627.3 601.1 627.9 598.5 628.4 592.6 628.9 590.2" fill="none" stroke="#fa0404" stroke-width="5.5" stroke-linejoin="round" stroke-linecap="round"/>
<path d="M665.8 645.2 666.3 643.0 666.7 639.9 667.2 634.1 667.6 630.7 668.3 628.7 669.1 624.2 669.9 618.4 670.7 615.8 671.5 611.3 672.3 606.2 673.0 604.4 673.5 598.7 674.1 594.2 674.6 589.6" fill="none" stroke="#fa0404" stroke-width="5.5" stroke-linejoin="round" stroke-linecap="round"/>
<path d="M714.2 647.1 714.6 644.1 715.1 642.0 715.5 636.2 715.9 631.5 716.5 630.3 717.3 624.7 718.1 619.6 718.9 616.2 719.7 612.4 720.5 607.5 721.3 605.1 721.8 598.9 722.4 595.5 722.9 594.9 723.4 589.2" fill="none" stroke="#fa0404" stroke-width="5.5" stroke-linejoin="round" stroke-linecap="round"/>
<path d="M758.8 646.6 759.2 643.8 759.6 639.5 760.1 632.8 760.5 628.9 761.3 627.8 762.1 622.0 762.9 619.4 763.7 616.0 764.5 609.3 765.3 605.0 765.9 601.8 766.4 600.5 767.0 594.4 767.5 589.8" fill="none" stroke="#fa0404" stroke-width="5.5" stroke-linejoin="round" stroke-linecap="round"/>
<path d="M808.4 649.1 808.9 644.2 809.3 640.9 809.8 635.9 810.2 632.4 810.8 629.7 811.6 622.8 812.4 619.9 813.2 615.3 814.0 613.3 814.8 606.8 815.6 605.0 816.1 600.4 816.6 594.9 817.2 592.1" fill="none" stroke="#fa0404" stroke-width="5.5" stroke-linejoin="round" stroke-linecap="round"/>
<path d="M858.9 648.3 859.3 647.6 859.8 643.4 860.2 636.0 860.7 635.7 861.1 630.4 861.9 624.5 862.7 620.0 863.5 617.1 864.3 613.9 865.1 610.1 865.9 607.0 866.5 600.1 867.1 597.9 867.6 595.9 868.1 591.2" fill="none" stroke="#fa0404" stroke-width="5.5" stroke-linejoin="round" stroke-linecap="round"/>
<path d="M906.0 647.1 906.4 645.1 906.9 642.1 907.3 637.1 907.8 631.3 908.4 628.0 909.2 624.0 910.0 618.6 910.8 616.8 911.6 612.1 912.4 608.4 913.1 606.1 913.6 602.2 914.2 595.9 914.7 591.0 915.3 587.3" fill="none" stroke="#fa0404" stroke-width="5.5" stroke-linejoin="round" stroke-linecap="round"/>
<path d="M955.0 647.3 955.4 644.0 955.9 639.6 956.3 634.8 956.7 630.9 957.4 627.9 958.2 623.1 959.0 620.1 959.8 616.1 960.6 612.9 961.4 609.3 962.1 602.8 962.6 601.6 963.2 597.1 963.7 591.8 964.2 588.7" fill="none" stroke="#fa0404" stroke-width="5.5" stroke-linejoin="round" stroke-linecap="round"/>
<path d="M1000.1 648.8 1000.6 643.1 1001.0 639.4 1001.5 635.2 1001.9 629.6 1002.6 627.7 1003.4 621.6 1004.2 620.8 1005.0 613.9 1005.8 609.3 1006.6 606.6 1007.3 601.3 1007.8 597.7 1008.4 595.2 1008.9 591.3" fill="none" stroke="#fa0404" stroke-width="5.5" stroke-linejoin="round" stroke-linecap="round"/>
<path d="M1049.9 651.5 1050.3 645.3 1050.8 639.9 1051.2 639.8 1051.7 632.0 1052.1 629.5 1052.9 624.1 1053.7 623.8 1054.5 618.7 1055.3 613.1 1056.1 610.8 1056.9 604.0 1057.5 601.8 1058.1 599.7 1058.6 595.4 1059.1 589.6" fill="none" stroke="#fa0404" stroke-width="5.5" stroke-linejoin="round" stroke-linecap="round"/>
<path d="M97.0 596.1 98.0 598.2 99.0 609.3 100.0 637.5 101.0 609.9 102.0 628.7 103.0 599.3 104.0 590.0 105.0 598.4 106.0 630.4 107.0 582.4 108.0 617.4 109.0 612.7 110.0 608.8 111.0 583.5 112.0 604.7 113.0 583.8 114.0 590.6 115.0 626.8 116.0 629.7 117.0 591.6 118.0 646.3 119.0 596.3 120.0 642.9 121.0 596.0 122.0 691.0 123.0 660.5 124.0 773.4 125.0 655.6 126.0 766.8 127.0 650.7 128.0 736.7 129.0 606.0 130.0 636.4 131.0 581.9 132.0 624.9 133.0 604.2 134.0 612.5 135.0 658.4 136.0 624.0 137.0 710.4 138.0 639.9 139.0 627.8 140.0 706.2 141.0 611.0 142.0 698.1 143.0 620.0 144.0 686.9 145.0 600.0 146.0 702.2 147.0 601.4 148.0 764.6 149.0 591.9 150.0 746.1 151.0 590.2 152.0 784.7 153.0 655.8 154.0 631.3 155.0 600.6 156.0 719.0 157.0 633.5 158.0 745.3 159.0 691.7 160.0 748.0 161.0 678.5 162.0 777.9 163.0 702.3 164.0 751.9 165.0 704.7 166.0 769.5 167.0 707.6 168.0 773.2 169.0 762.1 170.0 686.5 171.0 759.4 172.0 698.4 173.0 683.6 174.0 764.7 175.0 712.5 176.0 718.7 177.0 772.8 178.0 718.1 179.0 755.6 180.0 718.5 181.0 765.3 182.0 761.9 183.0 714.8 184.0 756.5 185.0 717.2 186.0 743.6 187.0 706.4 188.0 752.8 189.0 700.6 190.0 747.0 191.0 711.6 192.0 745.2 193.0 721.3 194.0 707.8 195.0 747.1 196.0 735.6 197.0 726.4 198.0 762.1 199.0 720.5 200.0 720.8 201.0 751.3 202.0 714.3 203.0 721.8 204.0 757.2 205.0 711.0 206.0 758.4 207.0 725.5 208.0 765.0 209.0 709.0 210.0 715.5 211.0 760.5 212.0 729.5 213.0 762.1 214.0 729.1 215.0 764.6 216.0 732.2 217.0 749.7 218.0 734.3 219.0 732.5 220.0 751.4 221.0 725.4 222.0 752.2 223.0 721.4 224.0 743.9 225.0 726.0 226.0 756.4 227.0 734.4 228.0 764.0 229.0 761.5 230.0 741.0 231.0 735.8 232.0 756.3 233.0 733.6 234.0 731.3 235.0 759.4 236.0 731.4 237.0 731.4 238.0 742.6 239.0 779.2 240.0 737.7 241.0 739.7 242.0 743.0 243.0 767.1 244.0 740.8 245.0 765.1 246.0 737.3 247.0 776.8 248.0 773.0 249.0 739.8 250.0 735.7 251.0 739.1 252.0 767.9 253.0 740.3 254.0 771.4 255.0 763.4 256.0 760.8 257.0 761.6 258.0 721.4 259.0 750.4 260.0 727.0 261.0 761.4 262.0 727.9 263.0 757.0 264.0 765.0 265.0 739.0 266.0 762.2 267.0 741.9 268.0 768.0 269.0 749.8 270.0 784.8 271.0 742.6 272.0 771.0 273.0 733.0 274.0 766.4 275.0 744.8 276.0 759.5 277.0 762.7 278.0 745.3 279.0 769.7 280.0 748.0 281.0 775.4 282.0 776.4 283.0 778.3 284.0 754.3 285.0 776.2 286.0 754.4 287.0 754.0 288.0 780.3 289.0 752.3 290.0 780.7 291.0 751.6 292.0 759.3 293.0 756.2 294.0 745.2 295.0 773.1 296.0 749.1 297.0 737.5 298.0 778.9 299.0 736.7 300.0 772.2 301.0 751.7 302.0 773.9 303.0 755.4 304.0 782.7 305.0 754.7 306.0 785.7 307.0 751.6 308.0 786.2 309.0 796.1 310.0 758.0 311.0 811.9 312.0 775.8 313.0 818.5 314.0 803.6 315.0 839.4 315.4 845.6 315.9 841.9 316.2 838.0 316.4 834.3 316.6 829.9 316.9 826.0 316.8 822.3 317.0 817.8 317.4 814.0 317.8 809.9 318.1 805.6 318.0 802.2 318.5 798.3 318.5 793.7 318.9 790.4 319.3 786.2 319.6 781.8 319.5 778.1 319.7 773.7 320.1 769.6 320.5 765.7 320.8 762.4 321.1 758.1 321.3 753.9 321.3 750.1 321.8 745.8 322.1 742.3 322.2 738.2 322.5 734.0 322.9 730.3 323.2 726.3 323.4 721.9 323.4 718.0 323.6 714.0 323.8 709.8 324.1 706.3 324.6 702.2 324.8 698.3 325.0 694.0 325.1 689.9 325.4 686.4 325.7 682.0 325.9 678.0 326.4 674.3 326.9 669.8 327.2 666.3 327.8 662.4 328.2 657.8 328.8 654.2 329.3 650.3 329.7 646.3 329.8 641.7 330.9 638.9 331.0 634.9 330.8 630.7 332.2 626.9 332.3 622.0 334.1 618.3 334.3 613.9 334.9 610.3 336.2 606.1 337.2 602.0 337.1 597.2 337.3 594.1 338.3 589.5 338.8 587.0 340.0 581.4 339.9 577.7 341.1 574.9 341.1 569.8 341.8 566.2 342.6 561.6 342.6 557.0 342.8 559.8 343.6 558.1 344.4 564.8 345.2 564.3 346.0 562.4 346.8 564.6 347.7 558.0 348.0 562.0 347.8 566.8 347.9 569.8 348.2 574.1 348.5 577.7 348.8 581.5 349.3 586.6 348.9 589.3 349.1 594.7 350.0 597.4 349.8 602.2 350.1 605.9 349.8 610.2 350.6 613.8 350.3 617.4 350.3 621.5 350.9 626.6 351.2 630.1 351.2 633.8 351.7 638.2 351.7 641.7 351.7 646.0 352.1 649.8 352.4 653.8 352.4 658.2 352.8 662.4 352.8 666.0 353.4 669.7 353.5 673.6 353.7 678.0 353.9 681.7 354.2 685.9 354.3 689.9 354.7 694.1 354.8 698.2 354.9 702.3 355.1 706.1 355.1 709.9 355.7 713.6 355.7 717.9 355.9 722.4 356.1 725.7 356.2 730.0 356.5 733.8 356.6 738.1 356.4 741.8 356.9 746.0 356.8 749.8 357.3 754.4 357.5 758.1 357.5 762.0 357.5 766.4 357.7 770.0 357.8 773.8 358.0 778.1 358.0 781.8 358.3 786.0 358.4 789.9 358.5 793.7 358.8 798.3 358.8 801.6 359.0 805.9 359.1 810.0 359.0 814.4 359.3 818.3 359.3 821.7 359.4 825.7 359.9 830.3 360.0 833.8 360.2 838.0 360.9 841.6 361.1 845.7 361.2 848.9 361.1 848.7 361.7 845.0 361.8 840.6 361.8 836.6 362.0 832.9 362.5 828.7 362.6 824.6 363.0 821.2 363.1 816.7 363.5 813.1 363.6 809.3 363.8 805.0 364.2 800.8 364.2 796.8 364.7 792.7 365.1 788.5 365.1 784.6 365.5 780.6 365.8 776.9 366.0 773.2 366.1 769.2 366.5 764.9 366.9 761.3 367.2 756.9 367.5 752.5 367.4 748.7 367.8 745.0 367.8 740.8 368.4 737.2 368.3 732.6 369.0 729.0 369.1 724.5 369.1 721.2 369.6 717.3 369.8 713.1 369.9 709.1 370.5 705.2 370.4 701.0 370.7 696.7 371.3 693.3 371.1 689.2 371.7 684.8 371.9 680.6 372.0 676.9 372.3 673.1 373.1 669.3 373.3 664.6 373.8 660.5 374.4 656.9 374.7 653.2 375.1 649.1 375.6 644.7 376.2 640.5 375.9 636.6 376.9 633.2 377.6 628.3 377.9 625.6 379.5 620.8 379.6 617.3 380.3 612.1 380.9 608.0 382.1 604.7 382.4 601.6 383.5 597.4 383.4 593.7 383.8 588.0 384.4 585.0 385.4 580.3 386.6 576.1 386.1 573.8 386.9 568.6 387.6 565.1 387.8 561.0 388.7 557.1 388.8 561.9 389.6 559.7 390.4 559.4 391.2 559.5 392.0 563.0 392.8 557.8 393.6 558.0 394.4 559.5 395.2 563.2 396.0 557.5 396.8 564.7 397.4 558.4 397.6 561.8 397.4 565.6 397.7 570.2 398.3 573.3 398.0 577.3 399.0 582.3 399.3 586.3 398.9 590.3 399.7 594.3 399.3 598.4 399.6 601.3 400.2 606.3 399.5 610.2 400.0 614.7 400.6 618.4 400.9 622.2 401.0 625.9 401.3 629.4 401.7 634.4 401.8 638.6 401.6 642.4 401.9 646.0 402.2 649.9 402.4 654.0 402.7 658.2 402.7 662.2 402.8 666.4 403.1 670.1 403.2 674.0 403.7 678.3 403.8 682.0 404.2 686.1 404.3 689.9 404.4 693.8 404.9 698.4 404.7 701.8 404.9 705.7 405.1 709.8 405.5 714.1 405.8 718.2 405.6 721.9 405.8 726.2 406.0 729.7 406.2 733.7 406.2 738.1 406.7 742.1 406.8 745.8 407.1 749.9 407.0 754.4 407.4 757.6 407.5 762.3 407.4 765.7 407.9 769.6 407.7 773.9 407.7 777.7 408.3 782.0 408.0 785.9 408.5 789.7 408.3 793.8 408.6 798.2 408.7 802.2 409.0 805.7 409.0 810.0 409.2 813.8 409.0 818.3 409.4 821.8 409.6 826.0 409.4 827.5 409.4 828.2 409.5 824.0 409.8 819.8 410.4 815.8 410.6 812.1 410.5 807.8 410.9 803.6 411.3 800.1 411.6 795.7 411.7 792.1 412.0 788.2 412.3 783.6 412.4 780.0 412.5 776.0 413.1 772.1 413.2 767.4 413.6 763.5 413.8 759.4 413.8 755.6 414.3 752.0 414.5 747.4 414.7 744.0 415.0 739.7 415.4 735.8 415.8 731.5 415.8 727.7 415.8 724.0 416.4 719.9 416.3 716.0 417.1 711.8 416.9 707.6 417.4 704.0 417.5 699.8 417.8 696.1 418.2 692.2 418.5 687.8 418.4 683.5 418.7 679.5 419.2 675.6 419.6 671.5 420.1 667.4 420.5 664.0 421.0 659.8 421.4 655.7 421.5 651.8 422.2 648.0 422.8 644.0 422.6 640.7 423.3 636.8 424.5 632.3 424.3 627.2 425.8 623.5 426.5 620.8 426.9 616.7 427.8 612.7 428.6 608.1 428.8 603.7 429.9 599.7 429.9 596.1 431.3 592.7 431.0 588.0 432.2 584.5 432.1 579.4 433.4 574.9 433.6 572.1 434.6 569.1 434.2 571.8 435.0 574.5 435.8 570.7 436.6 571.7 437.4 568.5 438.2 568.2 439.0 569.3 439.8 570.8 440.6 571.8 441.4 568.9 442.2 573.0 443.0 568.9 443.8 569.8 444.6 573.6 445.4 572.6 446.2 571.3 447.0 571.4 447.3 568.4 447.5 573.3 447.3 576.9 447.6 581.8 447.9 584.3 448.0 588.9 447.9 592.5 448.9 597.2 448.7 600.9 449.3 604.5 449.0 609.4 449.4 613.6 449.9 617.6 450.0 621.6 449.6 625.1 450.2 629.6 450.6 632.2 450.6 637.7 450.6 640.8 451.1 644.8 451.0 648.8 451.4 653.0 451.6 656.6 452.0 660.9 452.0 664.7 452.2 669.2 452.5 673.3 452.9 677.3 452.9 680.8 452.9 684.8 453.4 689.3 453.4 693.2 453.8 697.1 454.1 700.9 454.0 705.1 454.3 709.2 454.5 712.6 454.4 717.0 454.8 721.1 454.9 725.0 455.2 728.7 455.6 733.0 455.6 736.6 455.7 741.1 455.9 745.1 456.3 748.9 456.2 753.2 456.1 757.1 456.5 761.3 456.8 765.3 456.6 768.9 456.9 772.8 457.3 777.3 457.1 781.1 457.2 785.2 457.6 789.2 457.7 793.0 457.7 796.8 457.8 801.4 458.0 804.9 458.0 808.8 458.2 812.7 458.4 816.2 458.4 816.6 458.6 812.9 458.8 808.3 458.9 804.7 459.3 800.2 459.5 796.8 459.9 792.3 459.8 788.6 460.2 784.7 460.6 780.1 460.7 776.3 461.2 772.6 461.4 768.8 461.6 764.4 461.7 760.4 461.9 756.7 462.5 752.3 462.4 748.8 462.6 744.4 462.9 740.8 463.2 736.2 463.4 732.6 464.1 728.4 464.3 724.8 464.2 720.6 464.7 716.9 464.7 712.9 465.0 708.3 465.6 704.6 465.7 700.8 466.1 696.9 466.0 692.3 466.5 688.5 466.6 684.4 466.9 680.8 467.1 676.1 467.7 672.3 467.8 668.2 468.5 664.7 468.8 660.5 469.1 656.8 469.7 652.5 470.1 648.9 470.9 644.8 471.1 640.2 471.9 635.9 472.3 632.2 472.5 628.9 473.9 624.0 473.7 620.6 475.3 616.1 475.7 613.0 477.1 608.6 477.3 604.4 477.4 600.4 478.0 596.2 479.1 591.6 479.3 589.4 479.6 584.7 480.5 579.7 481.7 577.0 481.5 572.8 482.4 568.8 482.9 565.0 483.7 560.4 483.8 557.2 484.6 552.5 484.4 558.0 485.2 560.0 486.0 557.3 486.8 553.5 487.6 556.8 488.4 552.1 489.2 558.6 490.0 553.1 490.8 557.9 491.6 559.3 492.4 553.7 493.2 554.3 494.0 557.8 494.3 553.4 494.7 557.4 495.2 561.6 495.0 565.6 495.4 568.4 495.9 573.2 496.0 576.5 496.5 580.2 496.2 584.4 496.3 589.6 496.4 592.9 497.2 597.6 496.9 601.1 496.8 605.3 497.7 609.0 497.2 613.6 498.2 617.4 497.8 621.3 498.5 624.8 498.5 628.7 499.0 633.2 499.1 636.7 498.8 641.0 499.3 644.8 499.6 648.7 499.6 653.2 500.0 657.0 499.9 661.0 500.3 664.8 500.4 669.0 500.6 672.8 500.8 677.1 501.4 681.0 501.2 685.1 501.7 689.2 501.9 693.2 502.1 697.2 502.1 700.6 502.6 705.4 502.5 709.4 502.9 713.2 503.1 717.2 503.0 721.2 503.3 725.4 503.7 729.1 503.8 733.2 503.8 737.3 503.9 741.2 504.1 745.0 504.5 749.4 504.6 753.1 504.5 756.7 504.9 761.0 504.8 764.7 504.9 769.4 505.3 773.1 505.5 777.2 505.7 780.9 505.8 785.1 505.8 789.0 505.7 792.9 506.2 797.0 506.1 800.6 506.3 804.7 506.2 809.0 506.5 812.8 506.4 817.2 506.9 820.9 506.7 825.0 507.0 828.8 507.2 833.3 507.6 837.1 508.1 841.0 508.5 845.2 508.4 845.9 508.6 845.4 508.6 841.9 509.0 837.3 509.1 833.8 509.4 829.4 509.4 825.5 509.8 821.2 510.0 817.7 510.5 813.3 510.7 809.5 510.8 805.9 511.1 801.7 511.4 797.8 511.7 793.8 512.0 789.2 512.3 785.3 512.2 781.6 512.4 777.3 513.0 773.8 513.3 769.9 513.4 766.0 513.6 761.3 513.9 757.8 514.0 753.4 514.1 749.6 514.8 745.5 514.7 741.5 515.1 737.4 515.5 733.9 515.4 729.8 516.1 725.9 516.3 721.4 516.6 717.5 516.9 713.8 517.0 709.8 517.3 705.3 517.3 701.6 517.8 697.2 518.1 693.8 518.0 689.8 518.4 685.2 518.6 682.0 519.0 677.8 519.5 673.6 519.6 669.7 520.4 665.8 520.8 661.3 521.2 657.3 521.6 653.9 521.9 649.3 522.5 645.4 522.9 641.8 523.9 637.7 523.9 634.1 524.6 630.0 524.6 625.7 525.7 622.3 526.7 618.2 528.0 613.6 528.0 610.3 529.5 606.1 529.2 601.7 530.6 598.3 531.0 594.2 531.8 588.8 531.6 585.2 532.2 580.7 532.6 577.8 533.3 572.9 533.5 570.0 534.5 565.5 535.4 561.3 535.2 558.2 535.9 553.1 536.6 550.2 536.5 550.0 537.3 549.1 538.1 555.5 538.9 548.7 539.7 553.2 540.5 555.0 541.3 556.0 542.1 548.9 542.5 549.1 543.2 553.6 543.2 557.5 543.1 562.5 543.6 565.2 543.7 569.3 544.6 573.0 544.1 577.1 544.4 582.0 544.5 585.6 544.8 589.0 544.9 593.9 545.5 598.1 545.9 602.3 545.7 605.7 545.7 610.1 546.5 613.2 546.5 617.5 546.7 621.9 546.8 626.4 546.7 629.2 547.0 633.0 547.4 638.3 547.5 641.5 547.9 645.8 547.8 649.9 548.3 653.6 548.4 657.6 548.7 661.7 548.7 665.6 548.9 669.9 549.3 673.9 549.8 677.6 549.9 682.0 549.8 685.8 550.2 689.8 550.5 693.6 550.6 697.9 550.6 701.3 550.9 706.0 551.3 709.8 551.5 713.6 551.6 718.1 551.9 721.9 551.8 725.5 552.2 730.0 552.1 733.6 552.3 737.5 552.4 741.4 552.9 745.3 552.7 750.0 553.2 753.3 553.2 758.1 553.6 761.4 553.3 766.0 553.8 769.6 553.9 773.3 553.8 777.7 553.9 781.8 554.2 785.5 554.1 790.0 554.4 793.5 554.7 797.9 554.5 801.6 554.5 803.5 554.5 803.4 555.1 799.3 555.2 795.2 555.6 791.9 555.9 787.8 556.2 783.9 556.4 780.0 556.3 775.3 556.8 771.2 557.2 767.8 557.5 763.4 557.4 759.2 557.6 755.5 558.0 751.7 558.5 747.4 558.4 743.3 559.0 739.6 559.3 735.4 559.5 731.6 559.8 727.5 559.7 723.8 559.9 720.0 560.2 715.3 560.5 711.6 560.8 707.6 561.1 703.8 561.2 699.6 561.6 695.4 561.7 691.8 562.0 687.7 562.4 683.2 562.5 679.6 562.8 676.0 563.2 671.7 563.8 667.5 564.1 663.6 564.7 659.4 565.0 655.7 565.3 651.9 566.1 647.7 566.3 643.8 567.0 639.8 567.4 635.9 568.0 631.9 569.0 628.0 569.0 624.6 569.9 618.9 571.1 614.6 571.2 612.1 572.6 607.5 572.6 604.1 574.1 599.3 573.8 595.1 575.3 592.6 574.7 587.1 575.3 584.2 577.0 580.6 577.5 576.1 577.1 570.8 577.5 566.8 578.1 563.2 579.2 560.0 580.2 556.1 579.7 562.3 580.5 555.3 581.3 559.3 582.1 561.4 582.9 558.0 583.7 556.4 584.5 557.9 585.3 558.3 586.1 559.2 586.9 558.9 587.7 562.3 588.5 562.4 589.3 558.0 590.1 556.8 590.6 556.1 591.3 560.6 591.4 563.7 591.3 568.7 591.7 572.4 591.5 576.8 591.9 579.8 592.2 584.2 592.4 588.6 592.9 591.8 592.9 595.5 592.7 599.9 593.4 605.0 593.1 608.7 593.4 611.4 593.5 615.9 593.9 620.8 594.2 624.4 593.9 627.7 594.5 631.8 594.3 636.7 594.9 640.5 595.3 644.1 595.2 648.5 595.5 651.8 595.8 656.5 596.2 660.3 596.3 664.6 596.7 667.9 596.6 671.9 597.1 676.5 597.2 680.2 597.3 683.8 597.7 688.5 597.8 691.9 598.1 695.9 598.1 699.9 598.4 704.4 598.5 708.0 598.6 712.1 598.8 715.9 599.1 720.0 599.4 724.6 599.2 728.4 599.4 732.5 599.7 736.5 599.9 740.3 600.0 744.4 600.2 748.4 600.4 752.0 600.6 756.1 600.9 760.2 601.0 764.3 601.1 767.9 601.0 772.0 601.1 775.8 601.6 780.2 601.7 784.4 601.5 787.9 601.7 791.9 602.0 796.5 602.2 800.0 602.3 804.2 602.1 807.9 602.6 812.5 602.4 815.9 602.6 819.9 602.9 823.9 602.7 828.6 603.1 832.4 603.3 832.4 603.3 832.8 603.3 828.4 604.0 824.4 604.0 820.6 604.3 816.4 604.5 812.7 604.7 808.6 605.0 804.8 605.2 800.8 605.3 796.5 605.8 792.6 605.8 789.0 606.4 784.4 606.3 780.3 606.8 776.5 606.8 772.4 607.4 768.9 607.4 764.9 607.6 761.0 608.1 756.9 608.3 752.6 608.3 748.6 608.7 744.4 608.9 740.6 609.1 736.7 609.8 732.6 609.8 728.6 610.2 724.5 610.5 721.0 610.6 716.6 611.0 712.7 611.2 708.9 611.5 704.4 611.7 700.5 611.7 696.7 612.0 692.6 612.2 688.6 612.6 684.4 612.8 681.1 613.4 676.5 613.5 672.6 614.2 668.5 614.6 664.6 614.7 660.7 615.5 656.7 615.5 653.1 616.2 649.1 616.8 644.3 617.0 640.8 617.8 637.3 618.5 633.4 618.2 628.1 619.5 624.5 619.9 621.4 620.8 617.4 621.4 613.3 623.1 607.8 623.5 604.2 623.8 600.8 624.6 597.4 625.3 593.5 625.7 588.6 626.6 584.4 626.9 580.0 626.6 576.1 627.7 572.1 628.1 568.4 629.1 563.7 629.5 561.0 630.3 555.8 630.9 552.0 630.5 549.5 630.9 544.2 630.9 540.5 632.0 536.7 631.8 532.8 632.5 529.6 632.3 525.6 632.3 521.6 632.7 523.0 633.5 524.9 634.3 527.9 635.1 528.0 635.9 521.1 636.7 524.2 637.5 523.9 637.8 521.5 638.2 525.4 638.2 529.8 637.6 533.8 638.3 538.6 638.2 541.8 638.7 546.0 638.5 550.3 639.2 554.2 638.9 558.0 639.2 562.1 639.5 566.1 640.1 569.5 640.5 573.7 640.0 578.0 641.0 581.8 640.6 586.0 641.0 589.6 641.0 594.0 641.8 597.4 641.4 602.7 641.3 606.2 642.1 610.7 642.5 614.1 642.2 617.6 642.3 622.5 642.3 626.1 643.4 629.6 643.1 633.6 643.1 638.3 643.4 641.8 643.6 645.8 644.1 649.7 644.1 653.7 644.7 657.7 644.7 662.1 645.0 666.0 645.1 670.2 645.2 674.2 645.7 677.8 645.6 682.4 646.0 686.2 646.4 689.6 646.2 694.0 646.6 698.1 646.9 702.3 647.2 706.2 647.4 709.7 647.5 714.4 647.4 717.6 647.8 721.7 647.8 726.0 647.8 730.1 648.3 734.3 648.3 738.1 648.5 741.8 648.9 746.0 649.0 750.3 649.1 754.0 649.1 758.1 649.3 762.2 649.7 766.0 649.6 770.2 649.6 773.8 649.7 777.6 650.2 781.7 650.4 785.7 650.5 790.4 650.6 794.3 650.6 798.0 650.4 802.4 650.7 806.2 651.0 807.1 650.6 807.0 651.3 803.0 651.5 798.7 651.8 794.4 651.7 790.8 652.3 787.0 652.5 783.0 652.6 778.9 653.0 775.0 653.2 771.2 653.2 766.4 653.5 762.5 654.1 759.1 654.2 755.0 654.5 750.5 654.6 747.1 654.7 742.8 655.3 738.6 655.2 735.0 655.6 731.0 655.9 726.9 656.3 722.9 656.4 718.8 656.5 714.7 657.1 711.1 657.1 707.1 657.3 702.7 657.8 699.1 657.8 694.8 658.1 691.1 658.5 687.1 658.7 683.2 659.0 678.9 659.2 674.8 659.8 670.6 660.2 667.0 660.6 662.9 661.0 658.8 661.6 654.6 662.1 650.4 662.3 646.8 662.8 643.2 663.1 638.9 663.3 635.5 664.2 629.9 664.9 626.9 665.6 623.8 666.2 619.8 667.1 614.1 667.9 611.5 668.4 606.3 669.4 603.6 670.4 598.7 670.3 595.7 670.8 591.4 671.4 586.2 672.5 582.6 673.1 578.0 673.8 575.7 673.7 570.0 674.8 566.6 675.5 562.6 675.2 558.9 675.7 555.3 676.9 551.5 677.3 546.1 677.3 543.0 677.1 543.8 677.9 542.6 678.7 545.3 679.5 542.8 680.3 543.8 681.1 548.2 681.9 545.9 682.7 543.8 683.5 544.7 684.3 546.9 685.1 544.2 685.9 542.4 686.7 549.8 687.5 549.5 688.3 544.6 689.1 543.5 689.0 543.1 689.9 547.8 690.2 550.7 690.2 555.1 690.6 558.5 690.5 563.5 690.5 566.3 691.5 571.0 691.1 575.6 691.9 579.1 691.7 583.2 691.4 587.6 692.3 590.5 692.5 594.6 692.0 599.1 692.3 603.1 693.0 607.8 693.2 610.7 692.9 614.6 693.8 619.7 694.1 623.6 694.1 626.6 694.4 631.3 694.2 635.3 694.3 639.2 694.5 642.8 694.8 647.3 695.0 651.2 695.4 655.2 695.3 659.1 696.0 663.3 695.7 667.1 696.2 671.2 696.5 675.2 696.8 679.3 697.1 683.1 697.3 687.3 697.1 690.9 697.3 695.2 697.7 699.3 697.9 703.0 698.2 707.0 698.2 711.2 698.6 715.1 698.6 719.1 698.5 722.7 698.9 727.1 699.3 731.0 699.1 735.1 699.2 738.7 699.7 743.0 699.8 746.9 700.1 751.2 700.0 755.4 700.5 759.2 700.5 763.0 700.3 767.0 700.5 771.3 701.0 774.9 700.8 779.3 701.1 781.1 701.1 781.3 701.1 776.6 701.3 772.9 701.7 768.8 701.8 764.5 702.3 760.9 702.4 756.7 702.9 753.1 703.1 748.9 703.2 745.1 703.5 740.8 703.9 737.0 704.0 733.1 704.5 729.0 704.5 725.1 704.8 720.6 704.9 716.7 705.1 713.1 705.7 708.9 706.1 705.0 706.1 700.6 706.2 697.0 706.8 693.3 707.1 688.7 706.9 684.6 707.3 680.9 707.7 676.6 707.9 673.2 708.3 669.2 708.8 664.6 709.5 661.2 710.0 657.2 710.1 652.9 710.6 649.1 711.1 644.7 711.3 641.1 711.4 636.9 712.3 633.5 712.8 629.6 714.3 623.9 715.0 621.0 715.3 616.3 715.9 611.9 716.5 609.7 717.5 605.7 718.4 601.0 718.4 597.2 719.4 592.6 719.9 587.9 720.7 585.7 720.7 580.2 721.5 577.2 722.5 573.8 722.5 569.4 723.0 564.5 724.0 561.0 724.4 556.7 724.6 552.9 724.9 555.0 725.7 553.4 726.5 555.5 727.3 553.0 728.1 557.4 728.9 557.6 729.7 556.0 730.5 558.3 731.3 559.2 732.1 558.6 732.9 558.8 733.3 552.9 734.1 557.8 734.1 561.6 733.9 564.7 734.7 569.0 735.1 573.3 734.7 576.7 734.7 581.8 735.6 585.6 735.2 589.1 735.4 593.8 736.1 596.8 736.0 601.8 735.9 605.5 735.9 608.7 736.9 613.9 736.3 617.3 737.4 621.1 737.5 626.1 737.6 629.5 737.3 634.2 738.1 636.8 738.1 641.1 738.0 645.8 738.6 649.0 738.5 653.2 739.0 657.7 739.1 661.3 739.0 665.1 739.6 669.2 739.5 673.7 740.2 677.6 740.2 681.6 740.3 685.7 740.4 689.5 740.9 693.1 740.9 697.1 741.2 701.5 741.3 705.7 741.8 709.7 741.7 713.1 742.0 717.4 742.1 721.5 742.5 725.7 742.6 729.6 742.6 733.6 742.6 737.6 742.8 741.8 743.1 745.5 743.1 749.2 743.6 753.3 743.4 757.2 743.8 761.2 744.1 765.5 744.0 769.3 744.1 773.7 744.1 777.3 744.3 781.7 744.7 785.2 744.7 789.5 744.8 791.0 744.9 790.3 744.8 786.8 745.3 783.0 745.6 778.9 745.7 774.8 746.0 770.2 746.4 766.3 746.3 762.5 746.7 758.9 747.0 754.8 747.2 750.3 747.4 746.9 747.9 742.6 748.1 738.3 748.2 734.7 748.7 730.3 749.0 726.3 748.9 722.6 749.1 719.0 749.5 714.4 749.9 710.9 750.1 706.7 750.4 702.3 750.4 698.6 750.8 694.8 751.0 690.6 751.4 687.0 751.6 682.8 752.1 678.8 752.2 674.6 752.4 670.9 753.2 666.6 753.4 662.9 754.1 658.5 754.5 654.9 755.0 650.7 755.1 646.4 755.9 642.8 755.7 638.3 756.6 633.7 756.7 631.1 757.9 626.4 758.9 622.6 758.9 619.2 760.1 614.6 760.9 611.1 762.3 605.6 762.6 602.7 763.2 599.4 763.1 595.4 764.2 591.2 765.1 587.1 765.6 583.5 765.9 579.5 766.6 575.3 766.9 570.5 767.3 567.4 768.1 563.4 768.1 559.2 769.3 554.9 769.7 550.1 770.0 547.5 770.3 543.5 770.2 538.8 770.3 534.4 770.6 530.1 771.2 526.0 771.8 521.7 772.2 517.9 772.3 516.9 772.0 522.9 772.8 519.6 773.6 517.5 774.4 518.1 775.2 522.2 776.0 516.1 776.8 516.6 777.6 515.6 778.4 520.8 779.2 519.1 780.0 522.9 780.8 518.2 781.6 520.8 782.4 517.4 783.2 522.7 784.0 519.0 784.9 516.7 784.7 519.5 785.0 523.6 785.1 528.7 784.7 532.9 785.3 535.9 785.6 540.1 785.3 544.5 786.4 548.9 786.2 551.5 786.5 555.6 786.2 560.6 787.1 563.8 787.1 568.9 787.6 571.6 787.5 576.6 787.4 580.1 787.4 584.3 788.2 587.8 788.1 592.6 788.5 597.0 789.0 599.4 789.3 604.1 789.0 608.6 789.4 612.7 789.5 616.9 790.2 620.0 789.9 623.6 789.7 627.5 790.3 632.5 790.1 636.5 790.5 640.4 791.0 643.8 791.4 648.3 791.2 651.8 791.6 656.3 792.0 659.9 792.2 664.1 792.3 668.1 792.6 672.3 792.8 676.6 793.0 680.1 793.1 684.0 793.4 688.0 793.7 692.4 793.8 696.6 793.9 700.5 794.0 704.2 794.2 707.9 794.5 712.0 794.7 715.9 794.7 720.1 795.0 724.3 795.0 728.6 795.3 732.3 795.6 736.1 795.8 740.0 795.7 744.5 796.0 748.6 796.2 752.2 796.4 756.4 796.6 759.5 796.4 760.0 796.5 755.8 796.8 752.0 797.1 748.0 797.4 744.0 797.7 740.2 798.2 735.7 798.2 731.5 798.6 727.8 798.7 724.0 799.0 720.0 799.5 716.3 799.8 712.1 799.8 707.6 800.1 704.1 800.3 700.1 800.8 696.2 800.7 691.9 801.3 687.5 801.1 684.0 801.6 679.7 801.9 675.8 802.4 671.8 802.9 667.7 803.0 663.9 803.5 660.2 804.0 656.1 804.5 651.7 805.0 648.1 805.4 644.0 806.0 639.7 806.4 636.1 806.2 632.7 807.2 627.0 808.0 623.9 809.2 619.2 809.4 615.4 811.1 611.9 811.6 607.4 811.9 603.4 812.8 600.2 813.1 595.1 813.8 591.6 814.0 587.8 814.9 583.0 815.0 579.7 815.5 575.8 816.4 572.6 816.7 568.0 817.3 564.5 818.6 559.7 818.9 556.8 819.0 551.1 819.3 547.9 819.4 544.2 820.6 539.1 820.3 535.3 820.6 532.2 820.6 532.4 821.4 538.3 822.2 535.4 823.0 536.5 823.8 534.8 824.6 533.2 825.4 534.6 826.2 532.5 827.0 536.8 827.8 536.3 828.6 538.2 829.4 532.0 830.2 535.8 831.0 536.8 831.8 534.3 833.0 532.3 833.2 536.9 833.1 540.2 833.3 544.0 833.5 548.7 833.5 552.4 833.7 555.6 834.5 560.3 834.6 564.2 834.3 568.8 834.8 572.3 835.3 576.7 835.6 579.8 835.5 584.6 835.3 588.8 835.9 592.6 836.0 596.4 835.8 600.6 835.9 605.0 836.8 608.4 836.8 612.6 837.2 616.9 836.9 620.6 836.9 624.9 837.4 628.8 837.3 633.0 837.6 635.7 838.0 640.5 838.6 644.3 838.5 648.6 838.7 652.1 838.8 656.5 839.4 660.1 839.6 664.3 839.8 668.5 839.7 672.3 840.0 676.2 840.5 680.2 840.5 684.6 840.9 688.6 841.0 692.1 841.1 696.7 841.4 700.8 841.6 704.2 841.7 708.4 841.9 712.6 842.2 716.0 842.3 720.5 842.5 724.1 842.4 728.7 842.6 732.7 843.0 736.3 843.3 740.7 843.3 744.1 843.2 748.1 843.4 752.1 843.6 756.2 843.9 760.2 844.3 764.2 844.3 768.6 844.5 772.8 844.3 776.0 844.7 780.6 844.6 784.1 844.9 788.3 844.9 792.3 844.9 793.8 845.2 793.9 845.1 789.6 845.4 785.9 845.7 781.6 846.0 778.2 846.3 773.7 846.7 769.5 846.6 766.3 847.1 761.5 847.5 757.8 847.6 753.7 847.9 749.9 847.9 745.9 848.2 742.2 848.8 737.7 849.0 734.0 849.1 730.2 849.2 726.2 849.6 721.6 850.0 717.7 850.1 713.8 850.4 709.6 850.8 705.7 850.9 702.0 851.0 697.8 851.5 693.6 851.6 690.2 851.9 686.1 852.0 681.8 852.4 677.9 852.6 673.7 853.2 669.7 853.8 666.2 854.2 661.7 854.5 658.1 855.0 653.9 855.2 650.0 855.7 645.6 856.1 641.8 857.3 638.9 857.3 634.8 858.1 630.5 858.8 625.9 859.5 622.8 859.7 617.2 860.8 613.8 861.8 610.7 862.7 605.0 862.5 601.0 863.5 597.5 864.1 594.3 864.4 589.7 865.7 586.4 866.2 581.4 866.6 577.3 867.4 573.7 867.2 569.0 868.4 566.3 869.2 561.5 869.3 558.1 869.8 554.4 869.5 550.6 869.8 545.5 870.2 542.4 871.0 537.8 871.6 533.2 871.0 530.1 871.3 528.2 871.7 534.1 872.5 532.2 873.3 527.1 874.1 529.8 874.9 527.1 875.7 532.4 876.5 528.9 877.3 527.4 878.1 533.1 878.9 532.9 879.3 526.8 879.1 531.2 879.4 535.1 879.9 539.9 879.9 542.9 880.0 547.9 880.7 551.9 881.1 555.1 881.1 559.3 881.2 564.2 881.8 567.9 882.0 571.9 881.9 575.4 881.9 579.4 882.0 584.2 882.2 587.9 883.1 590.9 882.6 596.1 882.7 598.9 883.8 602.9 883.8 607.5 884.2 611.8 883.7 615.9 883.8 619.4 884.3 624.1 884.7 627.9 884.9 630.8 884.8 636.0 885.2 639.9 885.5 643.3 885.4 647.2 885.9 651.5 886.2 655.7 886.2 659.2 886.5 663.9 886.7 667.3 887.0 671.5 887.1 675.4 887.5 679.3 887.4 683.3 887.7 687.4 888.2 691.7 888.3 695.3 888.2 699.6 888.8 703.6 888.9 707.2 888.9 711.6 889.1 715.7 889.3 719.7 889.4 723.3 889.8 727.4 889.5 731.6 889.8 735.5 890.2 739.3 890.4 743.3 890.5 747.2 890.8 751.4 890.8 755.9 890.9 759.3 891.0 763.8 891.4 767.4 891.3 771.4 891.4 775.4 891.7 779.6 891.6 783.6 891.7 787.4 892.1 791.8 892.0 792.5 892.1 792.1 892.4 788.1 892.6 784.4 893.0 780.5 893.0 776.5 893.5 772.3 893.6 768.3 893.8 764.0 894.2 759.9 894.4 756.5 894.8 752.5 894.8 747.9 895.3 744.2 895.4 740.5 895.6 736.4 895.8 732.3 896.1 728.0 896.5 724.3 896.5 720.2 896.9 716.4 896.9 712.3 897.4 707.9 897.6 704.3 898.0 700.1 898.1 696.5 898.2 692.6 898.8 687.8 898.9 683.8 899.0 680.2 899.4 676.0 899.8 671.9 900.0 668.2 900.7 664.0 901.1 660.6 901.4 656.2 902.2 652.1 902.6 647.9 902.9 644.3 903.3 640.5 903.6 635.9 904.1 632.3 904.5 627.7 905.3 625.0 906.8 619.6 907.5 616.1 907.9 612.7 909.3 608.0 909.1 603.2 910.6 600.5 910.2 595.2 911.0 591.5 911.5 587.2 912.1 584.3 913.0 580.8 913.7 577.0 913.8 573.2 914.5 569.0 914.8 564.8 916.2 560.9 916.5 557.2 916.7 552.2 916.6 547.3 917.3 543.3 917.4 539.8 918.3 536.2 917.7 532.7 918.7 528.8 918.5 523.3 918.6 520.7 919.7 518.6 919.2 518.7 920.0 518.8 920.8 520.1 921.6 525.0 922.4 524.4 923.2 519.7 924.0 519.9 924.8 525.4 925.6 521.2 926.4 519.1 927.2 520.9 928.0 520.8 928.8 525.1 928.5 519.2 929.5 522.9 928.8 528.1 929.2 530.7 929.7 535.2 929.3 539.2 930.2 543.7 929.8 546.8 930.5 550.9 931.0 555.8 930.8 559.7 930.9 563.2 931.1 567.4 931.9 570.9 931.7 574.9 932.1 580.1 931.9 583.4 932.3 588.0 932.7 591.7 932.6 595.8 932.7 599.1 932.6 603.9 933.1 607.8 933.2 611.4 934.1 615.9 934.2 620.0 934.3 622.8 934.6 628.1 934.7 631.9 934.6 635.0 934.9 640.2 935.0 643.3 935.3 647.7 935.6 651.6 935.5 655.7 935.9 659.6 936.3 663.6 936.2 667.7 936.4 671.7 936.7 675.6 937.0 679.1 937.3 683.7 937.4 687.4 937.9 691.8 937.9 695.4 938.2 699.3 938.3 703.6 938.3 707.2 938.6 711.4 938.6 715.4 939.2 719.6 938.9 723.2 939.6 727.7 939.4 731.3 939.7 735.2 940.0 739.4 940.1 743.7 939.9 747.4 940.2 751.5 940.6 755.5 940.5 759.2 940.6 763.0 941.0 767.6 941.3 771.1 941.5 775.8 941.5 779.6 941.4 783.8 941.6 783.9 941.4 783.9 941.7 780.0 942.2 775.7 942.4 772.2 942.4 767.9 943.0 764.5 943.2 760.0 943.1 756.5 943.7 751.7 944.0 748.3 944.2 743.8 944.4 739.8 944.7 736.4 944.9 732.1 945.1 728.5 945.4 723.8 945.8 720.2 945.9 716.5 946.2 712.3 946.3 708.5 946.7 703.9 947.0 700.4 947.1 695.8 947.2 692.0 947.5 687.9 948.1 684.3 948.1 680.5 948.6 676.1 948.9 671.8 949.4 667.9 949.6 664.1 950.3 660.5 950.8 656.4 951.0 652.4 951.3 647.9 951.9 644.0 952.5 639.8 952.2 635.2 953.0 632.2 953.4 627.3 955.2 624.6 955.7 619.6 956.6 616.3 957.3 612.6 957.4 608.6 958.1 604.8 959.7 600.6 959.8 595.7 960.1 591.6 960.8 588.8 961.4 583.4 962.1 580.8 962.0 576.1 963.6 571.9 963.2 568.0 963.6 564.1 964.9 560.8 965.3 555.6 966.2 552.7 965.5 548.1 966.2 544.1 966.3 540.4 966.4 537.8 966.8 543.8 967.6 540.2 968.4 540.5 969.2 540.1 970.0 537.9 970.8 539.9 971.6 537.9 972.4 537.8 973.2 537.9 974.0 543.3 974.8 537.2 975.6 537.0 975.6 537.6 976.2 542.0 976.0 545.5 976.3 549.9 976.3 553.8 977.1 557.2 977.3 560.5 977.1 565.5 977.4 568.5 977.8 573.3 977.9 576.9 978.7 581.4 978.5 585.2 978.6 588.5 978.5 593.1 978.9 596.9 979.6 600.6 979.2 605.6 980.0 609.9 979.9 612.7 980.4 616.8 980.1 621.9 980.3 625.5 980.6 628.6 980.7 633.2 980.9 637.2 981.2 641.1 981.4 644.9 981.8 649.1 981.9 653.0 982.3 657.4 982.4 661.1 982.4 665.0 983.0 668.8 983.0 673.2 983.1 677.2 983.3 681.4 983.5 684.8 983.9 689.3 984.3 693.3 984.5 697.4 984.5 701.0 984.7 704.9 984.7 709.0 985.0 712.8 985.3 717.1 985.3 720.9 985.5 725.2 985.7 729.2 985.8 733.2 986.0 737.6 986.2 741.3 986.5 745.2 986.6 749.3 986.8 752.8 987.1 757.3 986.9 761.3 987.3 765.1 987.4 768.9 987.6 771.1 987.5 771.6 987.6 767.5 988.0 763.5 988.0 759.1 988.5 754.9 988.6 751.1 988.8 747.1 989.2 743.2 989.5 739.4 989.6 735.5 990.1 731.3 990.1 727.6 990.6 723.5 990.6 719.1 990.8 715.0 991.2 710.9 991.5 707.4 991.6 703.2 991.9 699.2 992.1 695.5 992.7 691.5 992.7 687.1 993.1 683.3 993.4 679.1 993.4 674.8 993.9 670.8 994.2 667.5 995.1 662.9 995.3 659.5 995.5 655.6 996.2 651.3 996.6 647.5 997.0 643.5 997.2 639.9 997.6 634.7 998.2 631.1 999.4 626.7 999.6 622.7 1000.7 618.5 1001.4 615.0 1002.7 611.8 1002.5 606.3 1004.4 602.6 1004.6 599.9 1005.3 595.7 1004.8 591.9 1005.9 588.0 1006.0 584.2 1006.6 579.6 1007.5 574.9 1008.6 572.0 1008.9 567.2 1008.8 563.7 1009.5 558.6 1010.4 556.0 1011.0 550.8 1010.8 546.7 1011.8 543.1 1011.4 538.6 1011.4 538.1 1011.8 545.6 1012.6 538.0 1013.4 537.9 1014.2 539.4 1015.0 540.0 1015.8 543.3 1016.6 540.8 1017.4 542.4 1018.2 540.2 1019.0 541.5 1019.8 544.7 1020.6 544.3 1021.4 541.8 1022.2 539.1 1023.0 541.9 1023.8 539.6 1023.7 538.4 1024.3 542.5 1024.7 546.8 1024.8 551.4 1024.8 554.7 1024.8 559.2 1024.7 562.1 1025.8 566.9 1025.2 570.6 1025.5 575.6 1025.6 578.8 1025.8 582.5 1026.3 586.5 1026.9 590.2 1027.0 594.6 1027.5 599.0 1027.3 603.3 1027.4 607.2 1027.5 611.5 1027.7 615.5 1028.1 618.2 1027.8 622.4 1028.2 626.2 1028.6 630.4 1028.6 634.2 1029.1 638.4 1029.2 642.4 1029.3 646.5 1029.6 651.2 1029.9 654.8 1029.9 658.7 1030.5 662.7 1030.6 666.9 1030.6 670.9 1030.9 674.5 1031.0 678.5 1031.5 683.2 1031.7 686.9 1031.9 690.7 1032.2 695.1 1032.3 698.6 1032.5 702.4 1032.6 706.9 1032.8 710.5 1033.1 714.8 1033.2 718.5 1033.3 722.4 1033.4 726.8 1033.6 730.8 1033.9 734.6 1033.9 738.8 1034.0 742.6 1034.2 747.1 1034.6 750.5 1034.7 754.5 1034.8 759.1 1035.1 762.5 1035.3 766.7 1035.4 770.6 1035.5 775.2 1035.5 778.8 1035.9 782.5 1036.0 787.2 1035.9 790.8 1035.9 794.3 1035.8 793.7 1036.3 790.1 1036.5 785.7 1036.6 782.2 1036.8 778.2 1037.1 773.9 1037.5 770.1 1038.0 765.7 1038.1 761.9 1038.4 757.7 1038.4 753.7 1038.8 750.2 1039.0 745.8 1039.2 741.6 1039.4 737.8 1040.0 734.0 1040.3 729.5 1040.6 725.9 1040.7 721.6 1041.1 718.2 1041.3 713.8 1041.3 709.9 1041.6 705.8 1041.7 702.0 1042.2 697.9 1042.3 694.1 1042.7 690.2 1042.8 685.8 1043.3 681.6 1043.4 677.5 1043.6 674.2 1044.2 669.5 1044.4 665.5 1045.0 662.1 1045.4 657.6 1045.8 654.1 1046.4 650.2 1046.9 645.8 1047.4 642.0 1048.2 638.7 1048.0 633.2 1048.8 629.9 1049.6 625.6 1049.9 622.5 1051.3 618.4 1052.1 614.5 1053.0 609.3 1053.8 605.3 1053.5 602.2 1054.2 597.0 1055.6 593.9 1056.0 590.5 1055.6 585.2 1056.9 582.8 1057.7 577.3 1058.4 573.8 1058.4 569.0 1059.3 564.9 1059.5 561.8 1059.7 557.9 1060.6 554.4 1061.5 549.2 1061.2 546.6 1061.4 541.7 1061.8 537.3 1062.0 533.6 1062.2 533.7 1063.0 533.0 1063.8 539.3 1064.6 538.0 1065.4 540.4 1066.2 539.7 1067.0 534.4 1067.8 534.5 1068.6 538.3 1069.4 533.7 1070.2 536.8 1071.0 534.5 1071.8 536.6 1072.6 540.8 1073.4 534.4 1073.5 533.6 1073.8 537.5 1074.2 542.7 1073.8 546.8 1074.7 549.4 1074.6 554.1 1075.0 558.0 1074.8 562.4 1075.1 565.6 1075.5 569.6 1075.4 574.3 1075.8 578.5 1075.8 582.1 1076.6 586.2 1076.1 590.6 1076.6 593.6 1076.5 597.4 1077.2 602.0 1077.5 605.5 1077.7 610.3 1078.0 613.9 1077.8 617.4 1077.8 621.6 1078.3 626.2 1078.1 630.4 1078.9 634.5 1078.5 638.8 1079.2 641.7 1079.2 646.0 1079.3 650.0 1079.7 654.1 1080.1 658.0 1080.0 661.8 1080.5 666.1 1080.7 670.4 1080.8 673.8 1080.8 678.1 1081.2 682.0 1081.4 686.1 1081.8 689.8 1081.6 694.3 1082.2 698.1 1082.0 701.9 1082.4 705.6 1082.6 710.2 1082.7 714.4 1083.2 718.4 1083.3 722.4 1083.3 726.1 1083.3 729.8 1083.5 733.8 1083.9 737.9 1083.8 742.4 1084.3 746.0 1084.1 749.7 1084.7 754.1 1084.5 757.6 1085.0 761.7 1084.4 761.6 1087.1 745.0 1088.9 720.0 1092.3 672.0 1096.7 578.0 1100.6 550.0 1102.0 545.7 1103.0 620.7 1104.0 613.7 1105.0 552.4 1106.0 631.8 1107.0 563.6 1108.0 569.6 1109.0 614.2 1110.0 540.3 1111.0 590.1 1112.0 537.4 1113.0 591.3 1114.0 558.0 1115.0 585.1 1116.0 554.6 1117.0 582.0 1118.0 537.8 1119.0 595.1 1120.0 537.3 1121.0 556.7 1122.0 540.5 1123.0 555.6 1124.0 549.6 1125.0 608.7 1126.0 598.8 1127.0 556.5 1128.0 580.3 1129.0 631.5 1130.0 567.6 1131.0 605.8 1132.0 578.1 1133.0 567.3 1134.0 608.4 1135.0 559.3 1136.0 612.6 1137.0 568.6 1138.0 601.2 1139.0 568.1 1140.0 606.3 1141.0 563.2 1142.0 570.9 1143.0 596.0 1144.0 575.9 1145.0 608.2 1146.0 578.4 1147.0 597.7 1148.0 561.7 1149.0 608.4 1150.0 565.5 1151.0 597.7 1152.0 574.6 1153.0 597.6 1154.0 573.4 1155.0 603.8 1156.0 575.0 1157.0 590.9 1158.0 574.4 1159.0 592.9 1160.0 568.5 1161.0 585.0 1162.0 564.5 1163.0 583.7 1164.0 558.3 1165.0 585.5 1166.0 565.2 1167.0 559.5 1168.0 561.9 1169.0 601.7 1170.0 579.6 1171.0 591.9 1172.0 562.4 1173.0 589.7 1174.0 595.9 1175.0 552.3 1176.0 546.5 1177.0 585.5 1178.0 553.2 1179.0 590.4 1180.0 573.9 1181.0 567.8 1182.0 606.2 1183.0 603.5 1184.0 572.4 1185.0 605.1 1186.0 581.8 1187.0 606.3 1188.0 615.9 1189.0 583.5 1190.0 615.1 1191.0 579.9 1192.0 579.1 1193.0 613.7 1194.0 606.2 1195.0 601.3 1196.0 584.0 1197.0 603.2 1198.0 572.8 1199.0 609.0 1200.0 581.5 1201.0 578.4 1202.0 607.7 1203.0 586.7 1204.0 610.5 1205.0 580.9 1206.0 604.2 1207.0 575.8 1208.0 585.2 1209.0 602.5 1210.0 620.0 1211.0 579.3 1212.0 620.1" fill="none" stroke="#fa0404" stroke-width="5.5" stroke-linejoin="round" stroke-linecap="round"/>
<rect x="97.8" y="48.6" width="1115.4" height="878.6999999999999" fill="none" stroke="#707070" stroke-width="2.5"/>
<path d="M197.8 927.3v-10M197.8 48.6v10M299.4 927.3v-10M299.4 48.6v10M400.9 927.3v-10M400.9 48.6v10M502.4 927.3v-10M502.4 48.6v10M603.9 927.3v-10M603.9 48.6v10M705.5 927.3v-10M705.5 48.6v10M807.0 927.3v-10M807.0 48.6v10M908.5 927.3v-10M908.5 48.6v10M1010.1 927.3v-10M1010.1 48.6v10M1111.6 927.3v-10M1111.6 48.6v10M97.8 145.4h10M1213.2 145.4h-10M97.8 243.1h10M1213.2 243.1h-10M97.8 340.8h10M1213.2 340.8h-10M97.8 438.6h10M1213.2 438.6h-10M97.8 536.3h10M1213.2 536.3h-10M97.8 634.0h10M1213.2 634.0h-10M97.8 731.7h10M1213.2 731.7h-10M97.8 829.4h10M1213.2 829.4h-10" stroke="#707070" stroke-width="2" fill="none"/>
<text x="96.3" y="957" font-size="25" text-anchor="middle" fill="#111" stroke="#111">0</text>
<text x="197.8" y="957" font-size="25" text-anchor="middle" fill="#111" stroke="#111">0.5</text>
<text x="299.4" y="957" font-size="25" text-anchor="middle" fill="#111" stroke="#111">1</text>
<text x="400.9" y="957" font-size="25" text-anchor="middle" fill="#111" stroke="#111">1.5</text>
<text x="502.4" y="957" font-size="25" text-anchor="middle" fill="#111" stroke="#111">2</text>
<text x="603.9" y="957" font-size="25" text-anchor="middle" fill="#111" stroke="#111">2.5</text>
<text x="705.5" y="957" font-size="25" text-anchor="middle" fill="#111" stroke="#111">3</text>
<text x="807.0" y="957" font-size="25" text-anchor="middle" fill="#111" stroke="#111">3.5</text>
<text x="908.5" y="957" font-size="25" text-anchor="middle" fill="#111" stroke="#111">4</text>
<text x="1010.1" y="957" font-size="25" text-anchor="middle" fill="#111" stroke="#111">4.5</text>
<text x="1111.6" y="957" font-size="25" text-anchor="middle" fill="#111" stroke="#111">5</text>
<text x="1213.1" y="957" font-size="25" text-anchor="middle" fill="#111" stroke="#111">5.5</text>
<text x="90.3" y="56.7" font-size="25" text-anchor="end" fill="#111" stroke="#111">3</text>
<text x="90.3" y="154.4" font-size="25" text-anchor="end" fill="#111" stroke="#111">2.5</text>
<text x="90.3" y="252.1" font-size="25" text-anchor="end" fill="#111" stroke="#111">2</text>
<text x="90.3" y="349.8" font-size="25" text-anchor="end" fill="#111" stroke="#111">1.5</text>
<text x="90.3" y="447.6" font-size="25" text-anchor="end" fill="#111" stroke="#111">1</text>
<text x="90.3" y="545.3" font-size="25" text-anchor="end" fill="#111" stroke="#111">0.5</text>
<text x="90.3" y="643.0" font-size="25" text-anchor="end" fill="#111" stroke="#111">0</text>
<text x="90.3" y="740.7" font-size="25" text-anchor="end" fill="#111" stroke="#111">-0.5</text>
<text x="90.3" y="838.4" font-size="25" text-anchor="end" fill="#111" stroke="#111">-1</text>
<text x="90.3" y="936.1" font-size="25" text-anchor="end" fill="#111" stroke="#111">-1.5</text>
<text x="96" y="37" font-size="25" fill="#222" stroke="#222">x</text>
<text x="118.6" y="37" font-size="26" fill="#222" stroke="#222">10</text>
<text x="145" y="20" font-size="15" fill="#444" stroke="#444">-3</text>
<text x="607.5" y="983.5" font-size="25" letter-spacing="1" fill="#333" stroke="#333">Time [s]</text>
<text transform="translate(28.5,686) rotate(-90)" x="0" y="0" font-size="25" letter-spacing="0.55" fill="#222" stroke="#222">piezo 1 and 3 sensor 1 voltage [V]</text>
<text x="172.6" y="290.6" font-size="25" fill="#111" stroke="#111">phase B</text>
<text x="631.7" y="156.2" font-size="25" fill="#111" stroke="#111">phase C</text>
<text x="1115.6" y="501.4" font-size="25" fill="#111" stroke="#111">phase D</text>
<rect x="1017.6" y="61.5" width="185.2" height="74.8" fill="#fff" stroke="#777" stroke-width="2"/>
<path d="M1029.5 81.1H1111.5" stroke="#a8a8ff" stroke-width="7"/>
<path d="M1029.5 81.3H1111.5" stroke="#08085a" stroke-width="3.6"/>
<path d="M1029.5 114.6H1111.5" stroke="#ff9090" stroke-width="7"/>
<path d="M1029.5 114.8H1111.5" stroke="#b00000" stroke-width="3.4"/>
<text x="1118.3" y="91.2" font-size="26" fill="#111" stroke="#111">piezo1</text>
<text x="1118.3" y="124.7" font-size="26" fill="#111" stroke="#111">piezo3</text>
</svg></body></html>
